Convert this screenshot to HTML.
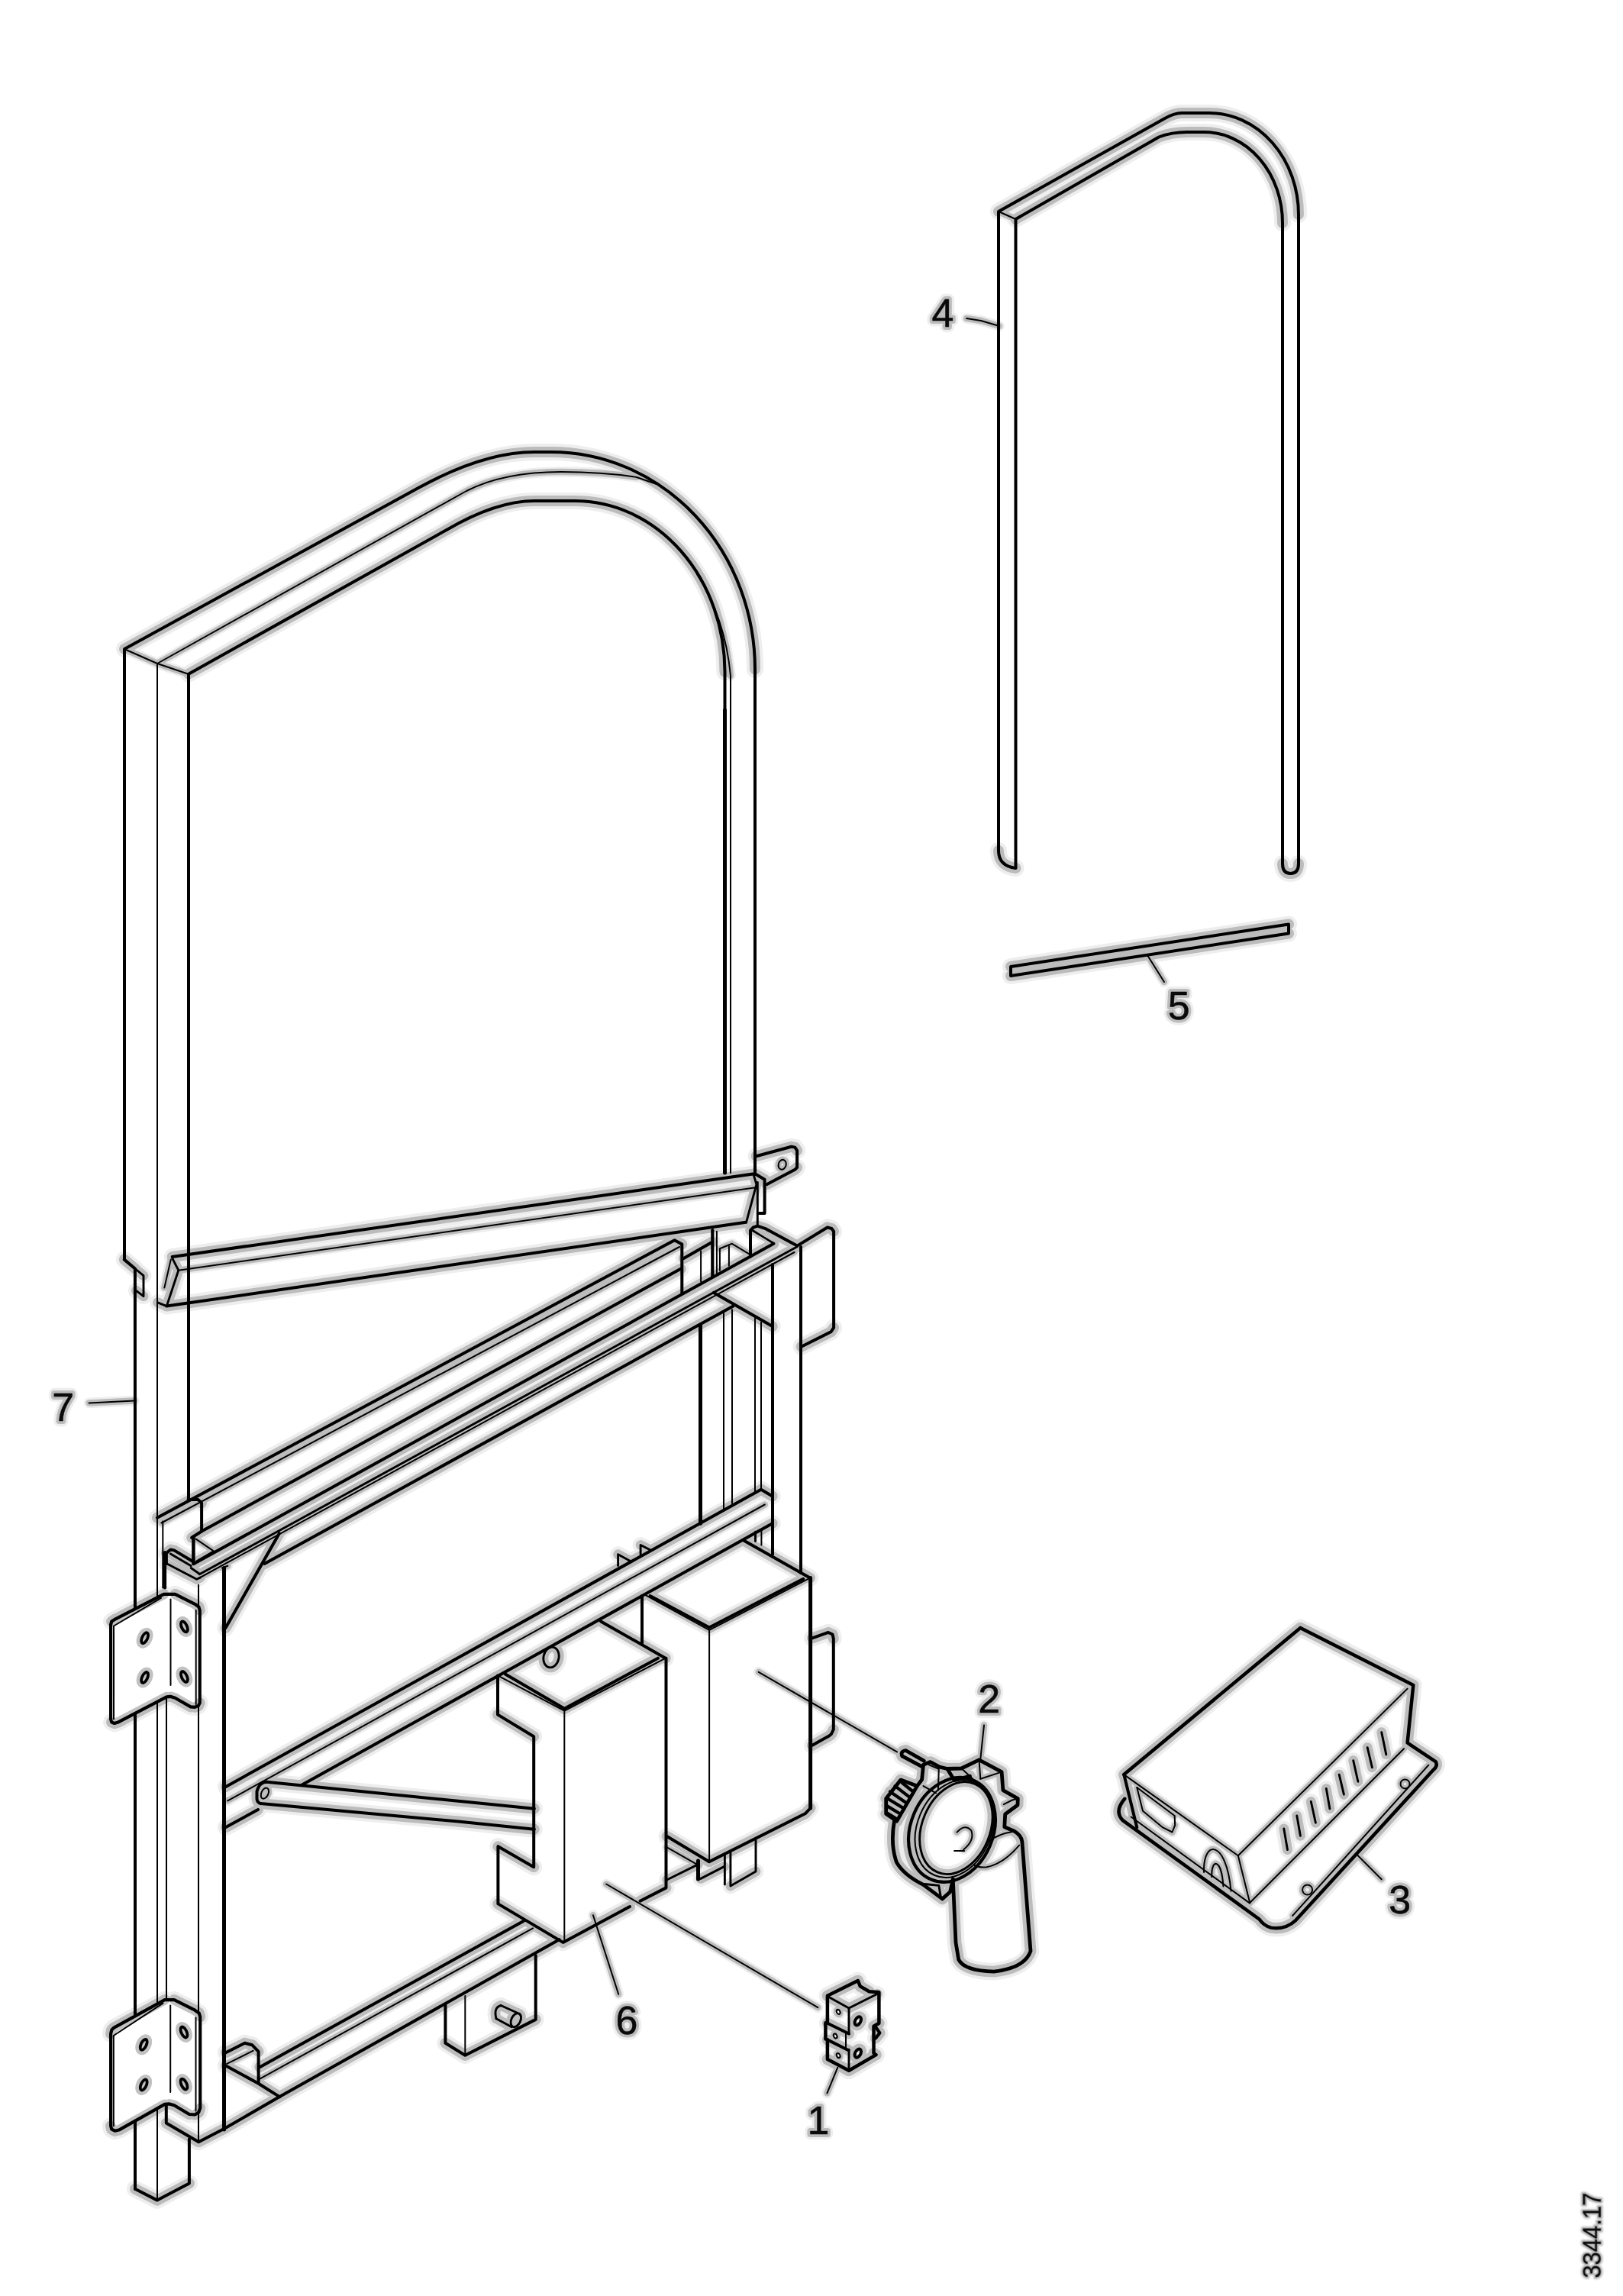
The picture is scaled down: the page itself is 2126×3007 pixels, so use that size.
<!DOCTYPE html>
<html><head><meta charset="utf-8"><style>
html,body{margin:0;padding:0;background:#fff;}
body{width:2126px;height:3007px;overflow:hidden;}
svg{display:block;font-family:"Liberation Sans",sans-serif;}
</style></head><body>
<svg width="2126" height="3007" viewBox="0 0 2126 3007" stroke="#000" stroke-linecap="round" stroke-linejoin="round" fill="none">
<g opacity="0.07" stroke="#000" fill="none">
<path d="M1308,277 L1525,155.5 Q1538,148 1548,148 L1584,148 A117 133 0 0 1 1701 281" stroke-width="22.0"/>
<path d="M1330.5,287 L1518,179.5 Q1535,173 1555,173 L1577,173 A103 119 0 0 1 1680 292" stroke-width="22.0"/>
<line x1="1308.0" y1="277.0" x2="1330.5" y2="287.0" stroke-width="13.7"/>
<path d="M1308,1114 Q1308,1134 1330.5,1137" stroke-width="22.0"/>
<path d="M1680,1131 Q1680,1144 1690.5,1144 Q1701,1144 1701,1131" stroke-width="22.0"/>
<text x="1220.4" y="427.7" font-size="52.0" fill="#000" stroke-width="14.4">4</text>
<line x1="1266.0" y1="417.0" x2="1285.0" y2="420.0" stroke-width="13.7"/>
<line x1="1285.0" y1="420.0" x2="1309.0" y2="427.0" stroke-width="13.7"/>
<line x1="1324.0" y1="1266.0" x2="1688.0" y2="1210.5" stroke-width="22.0"/>
<line x1="1688.0" y1="1222.5" x2="1324.0" y2="1278.0" stroke-width="22.0"/>
<text x="1529.7" y="1334.7" font-size="52.0" fill="#000" stroke-width="14.4">5</text>
<line x1="1503.0" y1="1251.0" x2="1525.0" y2="1286.0" stroke-width="13.7"/>
<path d="M163,850 L548,639 Q633.6,592 700,592 L722,592 A267 284.6 0 0 1 989,876.6" stroke-width="22.0"/>
<path d="M206,869 L611,643 Q660,618 735,618 Q790,618 834,625" stroke-width="13.7"/>
<path d="M913,752 Q950,810 957,885" stroke-width="13.7"/>
<path d="M247,882.7 L585,694 Q650,656 700,656 L753,656 A196.5 224 0 0 1 949.5,880" stroke-width="22.0"/>
<line x1="162.8" y1="850.0" x2="206.0" y2="869.0" stroke-width="13.7"/>
<line x1="206.0" y1="869.0" x2="246.6" y2="882.7" stroke-width="13.7"/>
<line x1="162.8" y1="1649.6" x2="176.9" y2="1661.5" stroke-width="22.0"/>
<line x1="176.9" y1="1661.5" x2="188.0" y2="1670.7" stroke-width="20.9"/>
<line x1="188.0" y1="1697.7" x2="178.4" y2="1690.3" stroke-width="20.9"/>
<line x1="116.6" y1="1837.4" x2="175.8" y2="1834.5" stroke-width="13.7"/>
<line x1="225.7" y1="1646.0" x2="986.3" y2="1537.6" stroke-width="22.0"/>
<line x1="233.8" y1="1663.7" x2="988.0" y2="1555.4" stroke-width="13.7"/>
<line x1="218.3" y1="1710.6" x2="977.0" y2="1600.8" stroke-width="22.0"/>
<line x1="225.7" y1="1647.8" x2="233.8" y2="1663.7" stroke-width="20.9"/>
<line x1="233.8" y1="1663.7" x2="218.3" y2="1710.6" stroke-width="20.9"/>
<line x1="218.3" y1="1710.6" x2="206.5" y2="1705.8" stroke-width="20.9"/>
<line x1="223.8" y1="1649.6" x2="215.3" y2="1686.6" stroke-width="13.7"/>
<line x1="205.9" y1="1987.7" x2="883.6" y2="1624.2" stroke-width="22.0"/>
<line x1="883.6" y1="1624.2" x2="893.3" y2="1629.5" stroke-width="22.0"/>
<line x1="211.4" y1="1994.5" x2="890.0" y2="1633.0" stroke-width="13.7"/>
<line x1="259.5" y1="1963.9" x2="264.1" y2="1968.5" stroke-width="22.0"/>
<line x1="251.2" y1="2013.8" x2="264.1" y2="2005.5" stroke-width="22.0"/>
<line x1="264.1" y1="2005.5" x2="891.7" y2="1661.7" stroke-width="22.0"/>
<line x1="256.7" y1="2015.6" x2="279.8" y2="2031.3" stroke-width="13.7"/>
<line x1="279.8" y1="2031.3" x2="257.6" y2="2044.3" stroke-width="13.7"/>
<line x1="253.9" y1="2048.0" x2="1013.4" y2="1628.8" stroke-width="22.0"/>
<line x1="261.3" y1="2061.8" x2="1044.2" y2="1632.8" stroke-width="20.9"/>
<line x1="261.3" y1="2066.5" x2="1040.6" y2="1640.0" stroke-width="13.7"/>
<line x1="346.4" y1="2048.0" x2="960.5" y2="1710.5" stroke-width="22.0"/>
<line x1="365.8" y1="2008.2" x2="295.5" y2="2132.1" stroke-width="22.0"/>
<line x1="290.9" y1="2053.5" x2="298.3" y2="2050.7" stroke-width="13.7"/>
<line x1="217.9" y1="2034.1" x2="223.4" y2="2029.5" stroke-width="22.0"/>
<line x1="228.1" y1="2030.4" x2="253.0" y2="2045.2" stroke-width="22.0"/>
<line x1="223.4" y1="2035.0" x2="250.2" y2="2050.7" stroke-width="20.9"/>
<line x1="218.8" y1="2048.0" x2="257.6" y2="2068.3" stroke-width="20.9"/>
<line x1="257.6" y1="2068.3" x2="262.3" y2="2066.1" stroke-width="20.9"/>
<line x1="250.2" y1="2053.5" x2="261.3" y2="2061.3" stroke-width="20.9"/>
<line x1="983.1" y1="1611.2" x2="986.8" y2="1607.5" stroke-width="22.0"/>
<line x1="986.8" y1="1607.5" x2="992.3" y2="1605.7" stroke-width="22.0"/>
<line x1="992.3" y1="1605.7" x2="1003.4" y2="1609.4" stroke-width="22.0"/>
<line x1="1003.4" y1="1609.4" x2="1044.1" y2="1631.6" stroke-width="22.0"/>
<line x1="985.9" y1="1612.2" x2="1013.6" y2="1627.9" stroke-width="13.7"/>
<line x1="986.2" y1="1611.2" x2="1013.4" y2="1628.8" stroke-width="13.7"/>
<line x1="1045.9" y1="1630.6" x2="1083.8" y2="1607.5" stroke-width="22.0"/>
<line x1="1083.8" y1="1607.5" x2="1089.4" y2="1609.0" stroke-width="22.0"/>
<line x1="1089.4" y1="1609.0" x2="1092.1" y2="1612.7" stroke-width="22.0"/>
<line x1="1092.1" y1="1738.8" x2="1088.4" y2="1744.3" stroke-width="22.0"/>
<line x1="1088.4" y1="1744.3" x2="1049.6" y2="1763.7" stroke-width="22.0"/>
<line x1="934.9" y1="1692.9" x2="1011.8" y2="1737.0" stroke-width="22.0"/>
<line x1="895.7" y1="1648.1" x2="933.3" y2="1626.4" stroke-width="22.0"/>
<line x1="942.9" y1="1635.2" x2="958.9" y2="1628.8" stroke-width="13.7"/>
<line x1="958.9" y1="1628.8" x2="983.0" y2="1643.3" stroke-width="13.7"/>
<line x1="990.5" y1="1514.2" x2="1036.7" y2="1501.8" stroke-width="22.0"/>
<line x1="1041.3" y1="1502.6" x2="1044.1" y2="1506.8" stroke-width="22.0"/>
<line x1="1044.1" y1="1529.0" x2="1041.3" y2="1531.8" stroke-width="22.0"/>
<line x1="1041.3" y1="1531.8" x2="1004.3" y2="1551.2" stroke-width="22.0"/>
<ellipse cx="1024.7" cy="1525.3" rx="5.0" ry="6.5" transform="rotate(15.0 1024.7 1525.3)" stroke-width="13.7"/>
<line x1="989.0" y1="1537.3" x2="1001.6" y2="1544.7" stroke-width="22.0"/>
<line x1="986.8" y1="1537.3" x2="990.9" y2="1551.2" stroke-width="20.9"/>
<line x1="990.9" y1="1551.2" x2="977.5" y2="1601.1" stroke-width="20.9"/>
<line x1="176.9" y1="2866.8" x2="206.0" y2="2881.6" stroke-width="22.0"/>
<line x1="206.0" y1="2881.6" x2="247.9" y2="2859.4" stroke-width="22.0"/>
<line x1="217.8" y1="2780.6" x2="260.2" y2="2805.2" stroke-width="22.0"/>
<line x1="260.2" y1="2805.2" x2="293.5" y2="2788.0" stroke-width="22.0"/>
<line x1="293.5" y1="2788.0" x2="366.2" y2="2746.1" stroke-width="22.0"/>
<line x1="146.2" y1="2123.6" x2="149.9" y2="2121.2" stroke-width="22.2"/>
<line x1="149.9" y1="2121.2" x2="214.6" y2="2087.9" stroke-width="22.2"/>
<line x1="229.4" y1="2087.9" x2="255.3" y2="2100.8" stroke-width="22.2"/>
<line x1="255.3" y1="2100.8" x2="260.4" y2="2104.5" stroke-width="22.2"/>
<line x1="260.4" y1="2104.5" x2="261.7" y2="2109.1" stroke-width="22.2"/>
<line x1="261.7" y1="2230.2" x2="259.9" y2="2233.9" stroke-width="22.2"/>
<line x1="259.9" y1="2233.9" x2="255.3" y2="2235.8" stroke-width="22.2"/>
<line x1="249.7" y1="2235.4" x2="229.4" y2="2223.8" stroke-width="22.2"/>
<line x1="229.4" y1="2223.8" x2="223.8" y2="2221.9" stroke-width="22.2"/>
<line x1="218.3" y1="2222.3" x2="155.5" y2="2255.2" stroke-width="22.2"/>
<line x1="155.5" y1="2255.2" x2="149.9" y2="2257.0" stroke-width="22.2"/>
<line x1="149.9" y1="2257.0" x2="146.2" y2="2255.5" stroke-width="22.2"/>
<line x1="149.0" y1="2129.5" x2="210.9" y2="2092.9" stroke-width="13.7"/>
<ellipse cx="189.6" cy="2145.2" rx="3.5" ry="7.5" transform="rotate(25.0 189.6 2145.2)" stroke-width="21.8"/>
<ellipse cx="189.6" cy="2197.0" rx="3.5" ry="7.5" transform="rotate(25.0 189.6 2197.0)" stroke-width="21.8"/>
<ellipse cx="241.4" cy="2130.4" rx="3.5" ry="7.5" transform="rotate(-25.0 241.4 2130.4)" stroke-width="21.8"/>
<ellipse cx="241.4" cy="2196.0" rx="3.5" ry="7.5" transform="rotate(-25.0 241.4 2196.0)" stroke-width="21.8"/>
<line x1="145.1" y1="2663.5" x2="146.3" y2="2658.6" stroke-width="22.2"/>
<line x1="146.3" y1="2658.6" x2="149.3" y2="2655.6" stroke-width="22.2"/>
<line x1="149.3" y1="2655.6" x2="215.8" y2="2619.1" stroke-width="22.2"/>
<line x1="228.2" y1="2619.1" x2="255.3" y2="2632.7" stroke-width="22.2"/>
<line x1="255.3" y1="2632.7" x2="260.7" y2="2636.4" stroke-width="22.2"/>
<line x1="260.7" y1="2636.4" x2="262.2" y2="2641.3" stroke-width="22.2"/>
<line x1="262.2" y1="2760.9" x2="260.2" y2="2766.5" stroke-width="22.2"/>
<line x1="260.2" y1="2766.5" x2="255.3" y2="2769.5" stroke-width="22.2"/>
<line x1="247.9" y1="2769.0" x2="228.2" y2="2757.2" stroke-width="22.2"/>
<line x1="228.2" y1="2757.2" x2="222.0" y2="2755.4" stroke-width="22.2"/>
<line x1="215.8" y1="2755.9" x2="156.7" y2="2789.2" stroke-width="22.2"/>
<line x1="156.7" y1="2789.2" x2="150.5" y2="2790.7" stroke-width="22.2"/>
<line x1="150.5" y1="2790.7" x2="146.3" y2="2788.7" stroke-width="22.2"/>
<line x1="146.3" y1="2788.7" x2="145.1" y2="2784.3" stroke-width="22.2"/>
<line x1="148.8" y1="2666.0" x2="213.4" y2="2623.6" stroke-width="13.7"/>
<ellipse cx="188.2" cy="2677.8" rx="3.5" ry="7.5" transform="rotate(25.0 188.2 2677.8)" stroke-width="21.8"/>
<ellipse cx="188.2" cy="2730.5" rx="3.5" ry="7.5" transform="rotate(25.0 188.2 2730.5)" stroke-width="21.8"/>
<ellipse cx="241.0" cy="2661.5" rx="3.5" ry="7.5" transform="rotate(-25.0 241.0 2661.5)" stroke-width="21.8"/>
<ellipse cx="241.0" cy="2729.6" rx="3.5" ry="7.5" transform="rotate(-25.0 241.0 2729.6)" stroke-width="21.8"/>
<line x1="295.9" y1="2340.0" x2="996.9" y2="1950.8" stroke-width="22.0"/>
<line x1="996.9" y1="1950.8" x2="1011.7" y2="1959.4" stroke-width="22.0"/>
<line x1="298.3" y1="2358.4" x2="1001.8" y2="1970.5" stroke-width="13.7"/>
<line x1="295.9" y1="2393.0" x2="338.0" y2="2370.0" stroke-width="22.0"/>
<line x1="395.7" y1="2337.5" x2="1011.7" y2="1995.2" stroke-width="22.0"/>
<line x1="809.6" y1="2035.8" x2="825.6" y2="2044.5" stroke-width="20.9"/>
<line x1="839.1" y1="2023.5" x2="851.5" y2="2029.7" stroke-width="20.9"/>
<line x1="348.9" y1="2333.8" x2="600.0" y2="2358.7" stroke-width="22.0"/>
<line x1="600.0" y1="2358.7" x2="699.8" y2="2368.7" stroke-width="22.0"/>
<line x1="341.5" y1="2362.1" x2="600.0" y2="2385.5" stroke-width="22.0"/>
<line x1="600.0" y1="2385.5" x2="699.8" y2="2395.7" stroke-width="22.0"/>
<path d="M348.9,2333.8 Q340,2334 336.5,2346 L336.5,2356 Q337,2361 341.5,2362.1" stroke-width="22.0"/>
<ellipse cx="346.9" cy="2348.6" rx="4.5" ry="7.5" transform="rotate(25.0 346.9 2348.6)" stroke-width="13.7"/>
<line x1="295.9" y1="2688.2" x2="320.6" y2="2675.8" stroke-width="22.0"/>
<line x1="320.6" y1="2675.8" x2="330.4" y2="2678.3" stroke-width="22.0"/>
<line x1="330.4" y1="2678.3" x2="338.6" y2="2686.9" stroke-width="22.0"/>
<line x1="295.9" y1="2705.4" x2="338.6" y2="2728.8" stroke-width="22.0"/>
<line x1="338.6" y1="2728.8" x2="366.2" y2="2746.1" stroke-width="22.0"/>
<line x1="297.2" y1="2702.9" x2="331.7" y2="2685.7" stroke-width="13.7"/>
<line x1="340.3" y1="2707.2" x2="685.7" y2="2516.0" stroke-width="22.0"/>
<line x1="340.3" y1="2722.7" x2="698.0" y2="2525.4" stroke-width="13.7"/>
<line x1="366.2" y1="2746.1" x2="732.5" y2="2540.2" stroke-width="22.0"/>
<line x1="583.4" y1="2675.7" x2="609.3" y2="2691.8" stroke-width="22.0"/>
<line x1="609.3" y1="2691.8" x2="701.7" y2="2644.9" stroke-width="22.0"/>
<line x1="656.1" y1="2626.5" x2="677.8" y2="2636.3" stroke-width="20.9"/>
<line x1="650.0" y1="2643.7" x2="670.4" y2="2654.8" stroke-width="20.9"/>
<path d="M656.1,2626.5 Q646.3,2628.9 650.0,2643.7" stroke-width="20.9"/>
<ellipse cx="675.8" cy="2645.7" rx="6.0" ry="9.5" transform="rotate(25.0 675.8 2645.7)" stroke-width="20.9"/>
<line x1="851.5" y1="2090.1" x2="929.1" y2="2131.5" stroke-width="22.0"/>
<line x1="929.1" y1="2131.5" x2="1052.3" y2="2067.9" stroke-width="22.0"/>
<line x1="974.7" y1="2017.8" x2="1061.0" y2="2066.6" stroke-width="22.0"/>
<line x1="845.3" y1="2088.8" x2="929.1" y2="2134.9" stroke-width="13.7"/>
<line x1="929.1" y1="2134.9" x2="1061.0" y2="2066.6" stroke-width="13.7"/>
<line x1="1061.6" y1="2368.0" x2="1054.7" y2="2375.3" stroke-width="22.0"/>
<line x1="1054.7" y1="2375.3" x2="929.0" y2="2438.2" stroke-width="22.0"/>
<line x1="929.0" y1="2438.2" x2="873.6" y2="2405.0" stroke-width="22.0"/>
<line x1="1064.0" y1="2145.3" x2="1085.0" y2="2138.0" stroke-width="22.0"/>
<line x1="1085.0" y1="2138.0" x2="1090.5" y2="2140.5" stroke-width="22.0"/>
<line x1="1090.5" y1="2140.5" x2="1091.8" y2="2146.0" stroke-width="22.0"/>
<line x1="1091.8" y1="2265.0" x2="1089.0" y2="2271.0" stroke-width="22.0"/>
<line x1="1089.0" y1="2271.0" x2="1086.0" y2="2273.5" stroke-width="22.0"/>
<line x1="1086.0" y1="2273.5" x2="1064.0" y2="2285.8" stroke-width="22.0"/>
<line x1="917.9" y1="2460.4" x2="948.5" y2="2444.6" stroke-width="20.9"/>
<line x1="956.9" y1="2470.0" x2="990.0" y2="2451.0" stroke-width="20.9"/>
<line x1="873.6" y1="2419.4" x2="914.9" y2="2442.8" stroke-width="13.7"/>
<line x1="873.6" y1="2462.0" x2="914.2" y2="2441.9" stroke-width="20.9"/>
<line x1="661.8" y1="2192.4" x2="739.3" y2="2237.7" stroke-width="22.0"/>
<line x1="739.3" y1="2237.7" x2="861.9" y2="2171.7" stroke-width="22.0"/>
<line x1="787.0" y1="2123.4" x2="871.8" y2="2171.7" stroke-width="22.0"/>
<line x1="652.0" y1="2194.4" x2="739.3" y2="2240.7" stroke-width="13.7"/>
<line x1="739.3" y1="2240.7" x2="871.8" y2="2171.7" stroke-width="13.7"/>
<line x1="652.0" y1="2245.6" x2="699.2" y2="2274.2" stroke-width="22.0"/>
<line x1="699.2" y1="2445.3" x2="652.4" y2="2418.2" stroke-width="22.0"/>
<line x1="652.4" y1="2493.4" x2="737.5" y2="2543.9" stroke-width="22.0"/>
<line x1="737.5" y1="2543.9" x2="825.0" y2="2497.1" stroke-width="22.0"/>
<line x1="838.5" y1="2489.7" x2="872.5" y2="2472.4" stroke-width="22.0"/>
<ellipse cx="722.0" cy="2170.5" rx="10.0" ry="13.5" transform="rotate(12.0 722.0 2170.5)" stroke-width="20.9"/>
<line x1="993.7" y1="2189.8" x2="1175.0" y2="2294.4" stroke-width="13.7"/>
<line x1="794.1" y1="2467.5" x2="1071.3" y2="2629.2" stroke-width="13.7"/>
<line x1="776.9" y1="2508.2" x2="810.2" y2="2611.7" stroke-width="13.7"/>
<path d="M1472.3,2324.1 1703.4,2131.9 1851.3,2207.0 L1843.6,2282.5 1880.5,2307.1 Q1884.2,2312.7 1876.8,2318.8 L1697.2,2515.1 Q1683.4,2527.7 1664.9,2524.6 Q1655.7,2522.2 1649.5,2513.5 L1470.8,2384.1 Q1459.1,2372.4 1473.3,2355.8" stroke-width="22.5"/>
<line x1="1472.3" y1="2324.1" x2="1489.3" y2="2393.4" stroke-width="22.0"/>
<line x1="1472.3" y1="2324.1" x2="1621.8" y2="2430.3" stroke-width="13.7"/>
<line x1="1621.8" y1="2430.3" x2="1843.6" y2="2211.6" stroke-width="13.7"/>
<line x1="1621.8" y1="2430.3" x2="1637.2" y2="2492.0" stroke-width="13.7"/>
<line x1="1637.2" y1="2492.0" x2="1839.0" y2="2290.2" stroke-width="13.7"/>
<line x1="1871.3" y1="2311.7" x2="1693.2" y2="2508.9" stroke-width="13.7"/>
<line x1="1481.6" y1="2379.5" x2="1637.2" y2="2492.6" stroke-width="13.7"/>
<line x1="1681.8" y1="2394.9" x2="1686.5" y2="2422.6" stroke-width="20.9"/>
<line x1="1698.8" y1="2378.0" x2="1703.4" y2="2404.2" stroke-width="20.9"/>
<line x1="1717.3" y1="2359.5" x2="1723.4" y2="2387.2" stroke-width="20.9"/>
<line x1="1737.3" y1="2342.5" x2="1741.9" y2="2368.7" stroke-width="20.9"/>
<line x1="1754.2" y1="2324.1" x2="1760.4" y2="2350.2" stroke-width="20.9"/>
<line x1="1772.7" y1="2305.6" x2="1778.9" y2="2333.3" stroke-width="20.9"/>
<line x1="1791.2" y1="2288.6" x2="1797.4" y2="2314.8" stroke-width="20.9"/>
<line x1="1809.7" y1="2268.6" x2="1815.8" y2="2297.9" stroke-width="20.9"/>
<circle cx="1840.5" cy="2336.4" r="6.0" stroke-width="13.7"/>
<circle cx="1712.6" cy="2475.0" r="6.5" stroke-width="13.7"/>
<line x1="1489.3" y1="2341.0" x2="1497.0" y2="2371.8" stroke-width="13.7"/>
<line x1="1497.0" y1="2371.8" x2="1523.2" y2="2393.4" stroke-width="13.7"/>
<line x1="1523.2" y1="2393.4" x2="1535.5" y2="2399.5" stroke-width="13.7"/>
<line x1="1535.5" y1="2399.5" x2="1539.2" y2="2390.3" stroke-width="13.7"/>
<line x1="1489.3" y1="2341.0" x2="1538.6" y2="2378.0" stroke-width="13.7"/>
<path d="M1577.1,2451.9 C1575.6,2408.8 1606.4,2408.8 1612.5,2476.6" stroke-width="13.7"/>
<path d="M1587.3,2458.1 C1586.3,2433.4 1600.2,2433.4 1602.4,2470.4" stroke-width="13.7"/>
<line x1="1777.3" y1="2428.8" x2="1809.7" y2="2461.2" stroke-width="13.7"/>
<line x1="1083.9" y1="2613.7" x2="1123.8" y2="2594.0" stroke-width="22.5"/>
<line x1="1123.8" y1="2594.0" x2="1126.8" y2="2601.4" stroke-width="22.5"/>
<line x1="1126.8" y1="2601.4" x2="1138.6" y2="2608.3" stroke-width="22.5"/>
<line x1="1151.4" y1="2649.7" x2="1144.5" y2="2653.7" stroke-width="22.5"/>
<line x1="1144.5" y1="2689.1" x2="1147.5" y2="2691.1" stroke-width="22.5"/>
<line x1="1147.5" y1="2691.1" x2="1112.0" y2="2711.8" stroke-width="22.5"/>
<line x1="1112.0" y1="2711.8" x2="1083.9" y2="2697.0" stroke-width="22.5"/>
<line x1="1147.0" y1="2654.6" x2="1152.4" y2="2662.5" stroke-width="22.2"/>
<line x1="1152.4" y1="2662.5" x2="1147.0" y2="2669.4" stroke-width="22.2"/>
<line x1="1085.3" y1="2615.2" x2="1112.0" y2="2630.0" stroke-width="20.9"/>
<line x1="1112.0" y1="2630.0" x2="1149.4" y2="2611.3" stroke-width="20.9"/>
<line x1="1083.9" y1="2649.7" x2="1112.0" y2="2663.5" stroke-width="22.0"/>
<line x1="1083.9" y1="2671.4" x2="1111.5" y2="2685.2" stroke-width="22.0"/>
<ellipse cx="1123.8" cy="2646.8" rx="3.6" ry="6.0" transform="rotate(28.0 1123.8 2646.8)" stroke-width="22.0"/>
<ellipse cx="1123.8" cy="2689.1" rx="3.6" ry="6.0" transform="rotate(28.0 1123.8 2689.1)" stroke-width="22.0"/>
<ellipse cx="1098.2" cy="2634.9" rx="2.2" ry="3.2" transform="rotate(-25.0 1098.2 2634.9)" stroke-width="13.7"/>
<ellipse cx="1094.2" cy="2666.5" rx="2.2" ry="3.2" transform="rotate(-25.0 1094.2 2666.5)" stroke-width="13.7"/>
<ellipse cx="1098.2" cy="2692.1" rx="2.2" ry="3.2" transform="rotate(-25.0 1098.2 2692.1)" stroke-width="13.7"/>
<line x1="1097.2" y1="2707.9" x2="1083.4" y2="2741.4" stroke-width="13.7"/>
<path d="M1210.4,2306.2 L1186.4,2292.5 Q1179.0,2293.8 1181.8,2299.9 L1206.7,2313.2" stroke-width="22.8"/>
<path d="M1201.3,2339.1 L1207.6,2330.7 1209.5,2311.3 1218.7,2307.6 1230.7,2314.1 1240.9,2316.5 1259.4,2316.0 1282.5,2304.9 1312.1,2320.6 1313.9,2344.6 1333.3,2355.7 1333.0,2364.0 1316.7,2376.0 1315.8,2392.7 1328.7,2398.2 Q1337.9,2403.8 1338.9,2412.1 L1350.0,2555.3 Q1342.6,2577.5 1301.9,2582.1 Q1263.1,2581.2 1255.7,2566.4 L1252.0,2544.2 1248.3,2461.1" stroke-width="22.8"/>
<path d="M1171.6,2384.3 Q1166.0,2414.8 1174.4,2438.9 Q1183.6,2455.5 1209.5,2468.4 L1234.4,2486.9 1244.6,2477.7 1248.3,2461.1" stroke-width="22.8"/>
<line x1="1211.3" y1="2467.5" x2="1229.8" y2="2469.4" stroke-width="20.9"/>
<line x1="1229.8" y1="2469.4" x2="1232.6" y2="2486.0" stroke-width="20.9"/>
<line x1="1201.3" y1="2339.1" x2="1179.9" y2="2331.1" stroke-width="22.8"/>
<line x1="1179.9" y1="2331.1" x2="1160.7" y2="2355.5" stroke-width="22.8"/>
<line x1="1160.7" y1="2375.5" x2="1174.7" y2="2385.1" stroke-width="22.8"/>
<line x1="1174.7" y1="2385.1" x2="1201.3" y2="2339.1" stroke-width="22.8"/>
<line x1="1181.4" y1="2334.6" x2="1196.2" y2="2346.5" stroke-width="22.2"/>
<line x1="1172.5" y1="2339.1" x2="1191.7" y2="2353.8" stroke-width="22.2"/>
<line x1="1165.9" y1="2346.5" x2="1187.3" y2="2361.2" stroke-width="22.2"/>
<line x1="1162.2" y1="2355.3" x2="1184.3" y2="2368.6" stroke-width="22.2"/>
<line x1="1161.4" y1="2364.9" x2="1179.9" y2="2376.0" stroke-width="22.2"/>
<line x1="1162.2" y1="2374.5" x2="1175.5" y2="2382.7" stroke-width="22.2"/>
<line x1="1240.9" y1="2316.5" x2="1250.1" y2="2331.7" stroke-width="22.8"/>
<line x1="1250.1" y1="2331.7" x2="1270.5" y2="2326.1" stroke-width="22.8"/>
<line x1="1282.5" y1="2304.9" x2="1284.3" y2="2329.8" stroke-width="13.7"/>
<line x1="1284.3" y1="2329.8" x2="1312.1" y2="2320.6" stroke-width="13.7"/>
<line x1="1259.4" y1="2316.0" x2="1274.2" y2="2329.8" stroke-width="13.7"/>
<line x1="1216.9" y1="2311.3" x2="1229.8" y2="2316.9" stroke-width="13.7"/>
<line x1="1209.5" y1="2339.1" x2="1226.1" y2="2348.3" stroke-width="13.7"/>
<line x1="1314.8" y1="2363.1" x2="1325.9" y2="2357.5" stroke-width="13.7"/>
<line x1="1325.9" y1="2357.5" x2="1333.3" y2="2355.7" stroke-width="13.7"/>
<ellipse cx="1247.0" cy="2396.4" rx="54.0" ry="70.6" transform="rotate(23.0 1247.0 2396.4)" stroke-width="22.2"/>
<ellipse cx="1250.1" cy="2395.1" rx="48.4" ry="66.2" transform="rotate(23.0 1250.1 2395.1)" stroke-width="13.7"/>
<ellipse cx="1252.4" cy="2394.1" rx="44.4" ry="62.8" transform="rotate(23.0 1252.4 2394.1)" stroke-width="20.9"/>
<path d="M1253.5,2399.7 Q1264.0,2388.0 1272.3,2397.3 Q1277.0,2410.2 1262.2,2422.2" stroke-width="13.7"/>
<path d="M1294.5,2412.1 Q1307.4,2401.9 1328.7,2398.6" stroke-width="13.7"/>
<path d="M1335.2,2416.7 Q1314.8,2440.7 1292.7,2445.3 Q1281.6,2446.3 1276.0,2442.6" stroke-width="13.7"/>
<line x1="1289.0" y1="2259.6" x2="1284.3" y2="2303.9" stroke-width="13.7"/>
<text x="68.3" y="1861.4" font-size="52.0" fill="#000" stroke-width="14.4">7</text>
<text x="1819.3" y="2505.7" font-size="52.0" fill="#000" stroke-width="14.4">3</text>
<text x="806.4" y="2664.2" font-size="52.0" fill="#000" stroke-width="14.4">6</text>
<text x="1057.6" y="2795.1" font-size="52.0" fill="#000" stroke-width="14.4">1</text>
<text x="1281.3" y="2242.9" font-size="52.0" fill="#000" stroke-width="14.4">2</text>
<text x="2096.4" y="2983.7" font-size="33.0" transform="rotate(-90 2096.4 2983.7)" textLength="112" lengthAdjust="spacingAndGlyphs" fill="#000" stroke-width="9.1">3344.17</text>
</g>
<g opacity="0.21" stroke="#000" fill="none">
<path d="M1308,277 L1525,155.5 Q1538,148 1548,148 L1584,148 A117 133 0 0 1 1701 281" stroke-width="14.0"/>
<path d="M1330.5,287 L1518,179.5 Q1535,173 1555,173 L1577,173 A103 119 0 0 1 1680 292" stroke-width="14.0"/>
<line x1="1308.0" y1="277.0" x2="1330.5" y2="287.0" stroke-width="8.5"/>
<path d="M1308,1114 Q1308,1134 1330.5,1137" stroke-width="14.0"/>
<path d="M1680,1131 Q1680,1144 1690.5,1144 Q1701,1144 1701,1131" stroke-width="14.0"/>
<text x="1220.4" y="427.7" font-size="52.0" fill="#000" stroke-width="8.0">4</text>
<line x1="1266.0" y1="417.0" x2="1285.0" y2="420.0" stroke-width="8.5"/>
<line x1="1285.0" y1="420.0" x2="1309.0" y2="427.0" stroke-width="8.5"/>
<line x1="1324.0" y1="1266.0" x2="1688.0" y2="1210.5" stroke-width="14.0"/>
<line x1="1688.0" y1="1222.5" x2="1324.0" y2="1278.0" stroke-width="14.0"/>
<text x="1529.7" y="1334.7" font-size="52.0" fill="#000" stroke-width="8.0">5</text>
<line x1="1503.0" y1="1251.0" x2="1525.0" y2="1286.0" stroke-width="8.5"/>
<path d="M163,850 L548,639 Q633.6,592 700,592 L722,592 A267 284.6 0 0 1 989,876.6" stroke-width="14.0"/>
<path d="M206,869 L611,643 Q660,618 735,618 Q790,618 834,625" stroke-width="8.5"/>
<path d="M913,752 Q950,810 957,885" stroke-width="8.5"/>
<path d="M247,882.7 L585,694 Q650,656 700,656 L753,656 A196.5 224 0 0 1 949.5,880" stroke-width="14.0"/>
<line x1="162.8" y1="850.0" x2="206.0" y2="869.0" stroke-width="8.5"/>
<line x1="206.0" y1="869.0" x2="246.6" y2="882.7" stroke-width="8.5"/>
<line x1="162.8" y1="1649.6" x2="176.9" y2="1661.5" stroke-width="14.0"/>
<line x1="176.9" y1="1661.5" x2="188.0" y2="1670.7" stroke-width="12.9"/>
<line x1="188.0" y1="1697.7" x2="178.4" y2="1690.3" stroke-width="12.9"/>
<line x1="116.6" y1="1837.4" x2="175.8" y2="1834.5" stroke-width="8.5"/>
<line x1="225.7" y1="1646.0" x2="986.3" y2="1537.6" stroke-width="14.0"/>
<line x1="233.8" y1="1663.7" x2="988.0" y2="1555.4" stroke-width="8.5"/>
<line x1="218.3" y1="1710.6" x2="977.0" y2="1600.8" stroke-width="14.0"/>
<line x1="225.7" y1="1647.8" x2="233.8" y2="1663.7" stroke-width="12.9"/>
<line x1="233.8" y1="1663.7" x2="218.3" y2="1710.6" stroke-width="12.9"/>
<line x1="218.3" y1="1710.6" x2="206.5" y2="1705.8" stroke-width="12.9"/>
<line x1="223.8" y1="1649.6" x2="215.3" y2="1686.6" stroke-width="8.5"/>
<line x1="205.9" y1="1987.7" x2="883.6" y2="1624.2" stroke-width="14.0"/>
<line x1="883.6" y1="1624.2" x2="893.3" y2="1629.5" stroke-width="14.0"/>
<line x1="211.4" y1="1994.5" x2="890.0" y2="1633.0" stroke-width="8.5"/>
<line x1="259.5" y1="1963.9" x2="264.1" y2="1968.5" stroke-width="14.0"/>
<line x1="251.2" y1="2013.8" x2="264.1" y2="2005.5" stroke-width="14.0"/>
<line x1="264.1" y1="2005.5" x2="891.7" y2="1661.7" stroke-width="14.0"/>
<line x1="256.7" y1="2015.6" x2="279.8" y2="2031.3" stroke-width="8.5"/>
<line x1="279.8" y1="2031.3" x2="257.6" y2="2044.3" stroke-width="8.5"/>
<line x1="253.9" y1="2048.0" x2="1013.4" y2="1628.8" stroke-width="14.0"/>
<line x1="261.3" y1="2061.8" x2="1044.2" y2="1632.8" stroke-width="12.9"/>
<line x1="261.3" y1="2066.5" x2="1040.6" y2="1640.0" stroke-width="8.5"/>
<line x1="346.4" y1="2048.0" x2="960.5" y2="1710.5" stroke-width="14.0"/>
<line x1="365.8" y1="2008.2" x2="295.5" y2="2132.1" stroke-width="14.0"/>
<line x1="290.9" y1="2053.5" x2="298.3" y2="2050.7" stroke-width="8.5"/>
<line x1="217.9" y1="2034.1" x2="223.4" y2="2029.5" stroke-width="14.0"/>
<line x1="228.1" y1="2030.4" x2="253.0" y2="2045.2" stroke-width="14.0"/>
<line x1="223.4" y1="2035.0" x2="250.2" y2="2050.7" stroke-width="12.9"/>
<line x1="218.8" y1="2048.0" x2="257.6" y2="2068.3" stroke-width="12.9"/>
<line x1="257.6" y1="2068.3" x2="262.3" y2="2066.1" stroke-width="12.9"/>
<line x1="250.2" y1="2053.5" x2="261.3" y2="2061.3" stroke-width="12.9"/>
<line x1="983.1" y1="1611.2" x2="986.8" y2="1607.5" stroke-width="14.0"/>
<line x1="986.8" y1="1607.5" x2="992.3" y2="1605.7" stroke-width="14.0"/>
<line x1="992.3" y1="1605.7" x2="1003.4" y2="1609.4" stroke-width="14.0"/>
<line x1="1003.4" y1="1609.4" x2="1044.1" y2="1631.6" stroke-width="14.0"/>
<line x1="985.9" y1="1612.2" x2="1013.6" y2="1627.9" stroke-width="8.5"/>
<line x1="986.2" y1="1611.2" x2="1013.4" y2="1628.8" stroke-width="8.5"/>
<line x1="1045.9" y1="1630.6" x2="1083.8" y2="1607.5" stroke-width="14.0"/>
<line x1="1083.8" y1="1607.5" x2="1089.4" y2="1609.0" stroke-width="14.0"/>
<line x1="1089.4" y1="1609.0" x2="1092.1" y2="1612.7" stroke-width="14.0"/>
<line x1="1092.1" y1="1738.8" x2="1088.4" y2="1744.3" stroke-width="14.0"/>
<line x1="1088.4" y1="1744.3" x2="1049.6" y2="1763.7" stroke-width="14.0"/>
<line x1="934.9" y1="1692.9" x2="1011.8" y2="1737.0" stroke-width="14.0"/>
<line x1="895.7" y1="1648.1" x2="933.3" y2="1626.4" stroke-width="14.0"/>
<line x1="942.9" y1="1635.2" x2="958.9" y2="1628.8" stroke-width="8.5"/>
<line x1="958.9" y1="1628.8" x2="983.0" y2="1643.3" stroke-width="8.5"/>
<line x1="990.5" y1="1514.2" x2="1036.7" y2="1501.8" stroke-width="14.0"/>
<line x1="1041.3" y1="1502.6" x2="1044.1" y2="1506.8" stroke-width="14.0"/>
<line x1="1044.1" y1="1529.0" x2="1041.3" y2="1531.8" stroke-width="14.0"/>
<line x1="1041.3" y1="1531.8" x2="1004.3" y2="1551.2" stroke-width="14.0"/>
<ellipse cx="1024.7" cy="1525.3" rx="5.0" ry="6.5" transform="rotate(15.0 1024.7 1525.3)" stroke-width="8.5"/>
<line x1="989.0" y1="1537.3" x2="1001.6" y2="1544.7" stroke-width="14.0"/>
<line x1="986.8" y1="1537.3" x2="990.9" y2="1551.2" stroke-width="12.9"/>
<line x1="990.9" y1="1551.2" x2="977.5" y2="1601.1" stroke-width="12.9"/>
<line x1="176.9" y1="2866.8" x2="206.0" y2="2881.6" stroke-width="14.0"/>
<line x1="206.0" y1="2881.6" x2="247.9" y2="2859.4" stroke-width="14.0"/>
<line x1="217.8" y1="2780.6" x2="260.2" y2="2805.2" stroke-width="14.0"/>
<line x1="260.2" y1="2805.2" x2="293.5" y2="2788.0" stroke-width="14.0"/>
<line x1="293.5" y1="2788.0" x2="366.2" y2="2746.1" stroke-width="14.0"/>
<line x1="146.2" y1="2123.6" x2="149.9" y2="2121.2" stroke-width="14.2"/>
<line x1="149.9" y1="2121.2" x2="214.6" y2="2087.9" stroke-width="14.2"/>
<line x1="229.4" y1="2087.9" x2="255.3" y2="2100.8" stroke-width="14.2"/>
<line x1="255.3" y1="2100.8" x2="260.4" y2="2104.5" stroke-width="14.2"/>
<line x1="260.4" y1="2104.5" x2="261.7" y2="2109.1" stroke-width="14.2"/>
<line x1="261.7" y1="2230.2" x2="259.9" y2="2233.9" stroke-width="14.2"/>
<line x1="259.9" y1="2233.9" x2="255.3" y2="2235.8" stroke-width="14.2"/>
<line x1="249.7" y1="2235.4" x2="229.4" y2="2223.8" stroke-width="14.2"/>
<line x1="229.4" y1="2223.8" x2="223.8" y2="2221.9" stroke-width="14.2"/>
<line x1="218.3" y1="2222.3" x2="155.5" y2="2255.2" stroke-width="14.2"/>
<line x1="155.5" y1="2255.2" x2="149.9" y2="2257.0" stroke-width="14.2"/>
<line x1="149.9" y1="2257.0" x2="146.2" y2="2255.5" stroke-width="14.2"/>
<line x1="149.0" y1="2129.5" x2="210.9" y2="2092.9" stroke-width="8.5"/>
<ellipse cx="189.6" cy="2145.2" rx="3.5" ry="7.5" transform="rotate(25.0 189.6 2145.2)" stroke-width="13.8"/>
<ellipse cx="189.6" cy="2197.0" rx="3.5" ry="7.5" transform="rotate(25.0 189.6 2197.0)" stroke-width="13.8"/>
<ellipse cx="241.4" cy="2130.4" rx="3.5" ry="7.5" transform="rotate(-25.0 241.4 2130.4)" stroke-width="13.8"/>
<ellipse cx="241.4" cy="2196.0" rx="3.5" ry="7.5" transform="rotate(-25.0 241.4 2196.0)" stroke-width="13.8"/>
<line x1="145.1" y1="2663.5" x2="146.3" y2="2658.6" stroke-width="14.2"/>
<line x1="146.3" y1="2658.6" x2="149.3" y2="2655.6" stroke-width="14.2"/>
<line x1="149.3" y1="2655.6" x2="215.8" y2="2619.1" stroke-width="14.2"/>
<line x1="228.2" y1="2619.1" x2="255.3" y2="2632.7" stroke-width="14.2"/>
<line x1="255.3" y1="2632.7" x2="260.7" y2="2636.4" stroke-width="14.2"/>
<line x1="260.7" y1="2636.4" x2="262.2" y2="2641.3" stroke-width="14.2"/>
<line x1="262.2" y1="2760.9" x2="260.2" y2="2766.5" stroke-width="14.2"/>
<line x1="260.2" y1="2766.5" x2="255.3" y2="2769.5" stroke-width="14.2"/>
<line x1="247.9" y1="2769.0" x2="228.2" y2="2757.2" stroke-width="14.2"/>
<line x1="228.2" y1="2757.2" x2="222.0" y2="2755.4" stroke-width="14.2"/>
<line x1="215.8" y1="2755.9" x2="156.7" y2="2789.2" stroke-width="14.2"/>
<line x1="156.7" y1="2789.2" x2="150.5" y2="2790.7" stroke-width="14.2"/>
<line x1="150.5" y1="2790.7" x2="146.3" y2="2788.7" stroke-width="14.2"/>
<line x1="146.3" y1="2788.7" x2="145.1" y2="2784.3" stroke-width="14.2"/>
<line x1="148.8" y1="2666.0" x2="213.4" y2="2623.6" stroke-width="8.5"/>
<ellipse cx="188.2" cy="2677.8" rx="3.5" ry="7.5" transform="rotate(25.0 188.2 2677.8)" stroke-width="13.8"/>
<ellipse cx="188.2" cy="2730.5" rx="3.5" ry="7.5" transform="rotate(25.0 188.2 2730.5)" stroke-width="13.8"/>
<ellipse cx="241.0" cy="2661.5" rx="3.5" ry="7.5" transform="rotate(-25.0 241.0 2661.5)" stroke-width="13.8"/>
<ellipse cx="241.0" cy="2729.6" rx="3.5" ry="7.5" transform="rotate(-25.0 241.0 2729.6)" stroke-width="13.8"/>
<line x1="295.9" y1="2340.0" x2="996.9" y2="1950.8" stroke-width="14.0"/>
<line x1="996.9" y1="1950.8" x2="1011.7" y2="1959.4" stroke-width="14.0"/>
<line x1="298.3" y1="2358.4" x2="1001.8" y2="1970.5" stroke-width="8.5"/>
<line x1="295.9" y1="2393.0" x2="338.0" y2="2370.0" stroke-width="14.0"/>
<line x1="395.7" y1="2337.5" x2="1011.7" y2="1995.2" stroke-width="14.0"/>
<line x1="809.6" y1="2035.8" x2="825.6" y2="2044.5" stroke-width="12.9"/>
<line x1="839.1" y1="2023.5" x2="851.5" y2="2029.7" stroke-width="12.9"/>
<line x1="348.9" y1="2333.8" x2="600.0" y2="2358.7" stroke-width="14.0"/>
<line x1="600.0" y1="2358.7" x2="699.8" y2="2368.7" stroke-width="14.0"/>
<line x1="341.5" y1="2362.1" x2="600.0" y2="2385.5" stroke-width="14.0"/>
<line x1="600.0" y1="2385.5" x2="699.8" y2="2395.7" stroke-width="14.0"/>
<path d="M348.9,2333.8 Q340,2334 336.5,2346 L336.5,2356 Q337,2361 341.5,2362.1" stroke-width="14.0"/>
<ellipse cx="346.9" cy="2348.6" rx="4.5" ry="7.5" transform="rotate(25.0 346.9 2348.6)" stroke-width="8.5"/>
<line x1="295.9" y1="2688.2" x2="320.6" y2="2675.8" stroke-width="14.0"/>
<line x1="320.6" y1="2675.8" x2="330.4" y2="2678.3" stroke-width="14.0"/>
<line x1="330.4" y1="2678.3" x2="338.6" y2="2686.9" stroke-width="14.0"/>
<line x1="295.9" y1="2705.4" x2="338.6" y2="2728.8" stroke-width="14.0"/>
<line x1="338.6" y1="2728.8" x2="366.2" y2="2746.1" stroke-width="14.0"/>
<line x1="297.2" y1="2702.9" x2="331.7" y2="2685.7" stroke-width="8.5"/>
<line x1="340.3" y1="2707.2" x2="685.7" y2="2516.0" stroke-width="14.0"/>
<line x1="340.3" y1="2722.7" x2="698.0" y2="2525.4" stroke-width="8.5"/>
<line x1="366.2" y1="2746.1" x2="732.5" y2="2540.2" stroke-width="14.0"/>
<line x1="583.4" y1="2675.7" x2="609.3" y2="2691.8" stroke-width="14.0"/>
<line x1="609.3" y1="2691.8" x2="701.7" y2="2644.9" stroke-width="14.0"/>
<line x1="656.1" y1="2626.5" x2="677.8" y2="2636.3" stroke-width="12.9"/>
<line x1="650.0" y1="2643.7" x2="670.4" y2="2654.8" stroke-width="12.9"/>
<path d="M656.1,2626.5 Q646.3,2628.9 650.0,2643.7" stroke-width="12.9"/>
<ellipse cx="675.8" cy="2645.7" rx="6.0" ry="9.5" transform="rotate(25.0 675.8 2645.7)" stroke-width="12.9"/>
<line x1="851.5" y1="2090.1" x2="929.1" y2="2131.5" stroke-width="14.0"/>
<line x1="929.1" y1="2131.5" x2="1052.3" y2="2067.9" stroke-width="14.0"/>
<line x1="974.7" y1="2017.8" x2="1061.0" y2="2066.6" stroke-width="14.0"/>
<line x1="845.3" y1="2088.8" x2="929.1" y2="2134.9" stroke-width="8.5"/>
<line x1="929.1" y1="2134.9" x2="1061.0" y2="2066.6" stroke-width="8.5"/>
<line x1="1061.6" y1="2368.0" x2="1054.7" y2="2375.3" stroke-width="14.0"/>
<line x1="1054.7" y1="2375.3" x2="929.0" y2="2438.2" stroke-width="14.0"/>
<line x1="929.0" y1="2438.2" x2="873.6" y2="2405.0" stroke-width="14.0"/>
<line x1="1064.0" y1="2145.3" x2="1085.0" y2="2138.0" stroke-width="14.0"/>
<line x1="1085.0" y1="2138.0" x2="1090.5" y2="2140.5" stroke-width="14.0"/>
<line x1="1090.5" y1="2140.5" x2="1091.8" y2="2146.0" stroke-width="14.0"/>
<line x1="1091.8" y1="2265.0" x2="1089.0" y2="2271.0" stroke-width="14.0"/>
<line x1="1089.0" y1="2271.0" x2="1086.0" y2="2273.5" stroke-width="14.0"/>
<line x1="1086.0" y1="2273.5" x2="1064.0" y2="2285.8" stroke-width="14.0"/>
<line x1="917.9" y1="2460.4" x2="948.5" y2="2444.6" stroke-width="12.9"/>
<line x1="956.9" y1="2470.0" x2="990.0" y2="2451.0" stroke-width="12.9"/>
<line x1="873.6" y1="2419.4" x2="914.9" y2="2442.8" stroke-width="8.5"/>
<line x1="873.6" y1="2462.0" x2="914.2" y2="2441.9" stroke-width="12.9"/>
<line x1="661.8" y1="2192.4" x2="739.3" y2="2237.7" stroke-width="14.0"/>
<line x1="739.3" y1="2237.7" x2="861.9" y2="2171.7" stroke-width="14.0"/>
<line x1="787.0" y1="2123.4" x2="871.8" y2="2171.7" stroke-width="14.0"/>
<line x1="652.0" y1="2194.4" x2="739.3" y2="2240.7" stroke-width="8.5"/>
<line x1="739.3" y1="2240.7" x2="871.8" y2="2171.7" stroke-width="8.5"/>
<line x1="652.0" y1="2245.6" x2="699.2" y2="2274.2" stroke-width="14.0"/>
<line x1="699.2" y1="2445.3" x2="652.4" y2="2418.2" stroke-width="14.0"/>
<line x1="652.4" y1="2493.4" x2="737.5" y2="2543.9" stroke-width="14.0"/>
<line x1="737.5" y1="2543.9" x2="825.0" y2="2497.1" stroke-width="14.0"/>
<line x1="838.5" y1="2489.7" x2="872.5" y2="2472.4" stroke-width="14.0"/>
<ellipse cx="722.0" cy="2170.5" rx="10.0" ry="13.5" transform="rotate(12.0 722.0 2170.5)" stroke-width="12.9"/>
<line x1="993.7" y1="2189.8" x2="1175.0" y2="2294.4" stroke-width="8.5"/>
<line x1="794.1" y1="2467.5" x2="1071.3" y2="2629.2" stroke-width="8.5"/>
<line x1="776.9" y1="2508.2" x2="810.2" y2="2611.7" stroke-width="8.5"/>
<path d="M1472.3,2324.1 1703.4,2131.9 1851.3,2207.0 L1843.6,2282.5 1880.5,2307.1 Q1884.2,2312.7 1876.8,2318.8 L1697.2,2515.1 Q1683.4,2527.7 1664.9,2524.6 Q1655.7,2522.2 1649.5,2513.5 L1470.8,2384.1 Q1459.1,2372.4 1473.3,2355.8" stroke-width="14.5"/>
<line x1="1472.3" y1="2324.1" x2="1489.3" y2="2393.4" stroke-width="14.0"/>
<line x1="1472.3" y1="2324.1" x2="1621.8" y2="2430.3" stroke-width="8.5"/>
<line x1="1621.8" y1="2430.3" x2="1843.6" y2="2211.6" stroke-width="8.5"/>
<line x1="1621.8" y1="2430.3" x2="1637.2" y2="2492.0" stroke-width="8.5"/>
<line x1="1637.2" y1="2492.0" x2="1839.0" y2="2290.2" stroke-width="8.5"/>
<line x1="1871.3" y1="2311.7" x2="1693.2" y2="2508.9" stroke-width="8.5"/>
<line x1="1481.6" y1="2379.5" x2="1637.2" y2="2492.6" stroke-width="8.5"/>
<line x1="1681.8" y1="2394.9" x2="1686.5" y2="2422.6" stroke-width="12.9"/>
<line x1="1698.8" y1="2378.0" x2="1703.4" y2="2404.2" stroke-width="12.9"/>
<line x1="1717.3" y1="2359.5" x2="1723.4" y2="2387.2" stroke-width="12.9"/>
<line x1="1737.3" y1="2342.5" x2="1741.9" y2="2368.7" stroke-width="12.9"/>
<line x1="1754.2" y1="2324.1" x2="1760.4" y2="2350.2" stroke-width="12.9"/>
<line x1="1772.7" y1="2305.6" x2="1778.9" y2="2333.3" stroke-width="12.9"/>
<line x1="1791.2" y1="2288.6" x2="1797.4" y2="2314.8" stroke-width="12.9"/>
<line x1="1809.7" y1="2268.6" x2="1815.8" y2="2297.9" stroke-width="12.9"/>
<circle cx="1840.5" cy="2336.4" r="6.0" stroke-width="8.5"/>
<circle cx="1712.6" cy="2475.0" r="6.5" stroke-width="8.5"/>
<line x1="1489.3" y1="2341.0" x2="1497.0" y2="2371.8" stroke-width="8.5"/>
<line x1="1497.0" y1="2371.8" x2="1523.2" y2="2393.4" stroke-width="8.5"/>
<line x1="1523.2" y1="2393.4" x2="1535.5" y2="2399.5" stroke-width="8.5"/>
<line x1="1535.5" y1="2399.5" x2="1539.2" y2="2390.3" stroke-width="8.5"/>
<line x1="1489.3" y1="2341.0" x2="1538.6" y2="2378.0" stroke-width="8.5"/>
<path d="M1577.1,2451.9 C1575.6,2408.8 1606.4,2408.8 1612.5,2476.6" stroke-width="8.5"/>
<path d="M1587.3,2458.1 C1586.3,2433.4 1600.2,2433.4 1602.4,2470.4" stroke-width="8.5"/>
<line x1="1777.3" y1="2428.8" x2="1809.7" y2="2461.2" stroke-width="8.5"/>
<line x1="1083.9" y1="2613.7" x2="1123.8" y2="2594.0" stroke-width="14.5"/>
<line x1="1123.8" y1="2594.0" x2="1126.8" y2="2601.4" stroke-width="14.5"/>
<line x1="1126.8" y1="2601.4" x2="1138.6" y2="2608.3" stroke-width="14.5"/>
<line x1="1151.4" y1="2649.7" x2="1144.5" y2="2653.7" stroke-width="14.5"/>
<line x1="1144.5" y1="2689.1" x2="1147.5" y2="2691.1" stroke-width="14.5"/>
<line x1="1147.5" y1="2691.1" x2="1112.0" y2="2711.8" stroke-width="14.5"/>
<line x1="1112.0" y1="2711.8" x2="1083.9" y2="2697.0" stroke-width="14.5"/>
<line x1="1147.0" y1="2654.6" x2="1152.4" y2="2662.5" stroke-width="14.2"/>
<line x1="1152.4" y1="2662.5" x2="1147.0" y2="2669.4" stroke-width="14.2"/>
<line x1="1085.3" y1="2615.2" x2="1112.0" y2="2630.0" stroke-width="12.9"/>
<line x1="1112.0" y1="2630.0" x2="1149.4" y2="2611.3" stroke-width="12.9"/>
<line x1="1083.9" y1="2649.7" x2="1112.0" y2="2663.5" stroke-width="14.0"/>
<line x1="1083.9" y1="2671.4" x2="1111.5" y2="2685.2" stroke-width="14.0"/>
<ellipse cx="1123.8" cy="2646.8" rx="3.6" ry="6.0" transform="rotate(28.0 1123.8 2646.8)" stroke-width="14.0"/>
<ellipse cx="1123.8" cy="2689.1" rx="3.6" ry="6.0" transform="rotate(28.0 1123.8 2689.1)" stroke-width="14.0"/>
<ellipse cx="1098.2" cy="2634.9" rx="2.2" ry="3.2" transform="rotate(-25.0 1098.2 2634.9)" stroke-width="8.5"/>
<ellipse cx="1094.2" cy="2666.5" rx="2.2" ry="3.2" transform="rotate(-25.0 1094.2 2666.5)" stroke-width="8.5"/>
<ellipse cx="1098.2" cy="2692.1" rx="2.2" ry="3.2" transform="rotate(-25.0 1098.2 2692.1)" stroke-width="8.5"/>
<line x1="1097.2" y1="2707.9" x2="1083.4" y2="2741.4" stroke-width="8.5"/>
<path d="M1210.4,2306.2 L1186.4,2292.5 Q1179.0,2293.8 1181.8,2299.9 L1206.7,2313.2" stroke-width="14.8"/>
<path d="M1201.3,2339.1 L1207.6,2330.7 1209.5,2311.3 1218.7,2307.6 1230.7,2314.1 1240.9,2316.5 1259.4,2316.0 1282.5,2304.9 1312.1,2320.6 1313.9,2344.6 1333.3,2355.7 1333.0,2364.0 1316.7,2376.0 1315.8,2392.7 1328.7,2398.2 Q1337.9,2403.8 1338.9,2412.1 L1350.0,2555.3 Q1342.6,2577.5 1301.9,2582.1 Q1263.1,2581.2 1255.7,2566.4 L1252.0,2544.2 1248.3,2461.1" stroke-width="14.8"/>
<path d="M1171.6,2384.3 Q1166.0,2414.8 1174.4,2438.9 Q1183.6,2455.5 1209.5,2468.4 L1234.4,2486.9 1244.6,2477.7 1248.3,2461.1" stroke-width="14.8"/>
<line x1="1211.3" y1="2467.5" x2="1229.8" y2="2469.4" stroke-width="12.9"/>
<line x1="1229.8" y1="2469.4" x2="1232.6" y2="2486.0" stroke-width="12.9"/>
<line x1="1201.3" y1="2339.1" x2="1179.9" y2="2331.1" stroke-width="14.8"/>
<line x1="1179.9" y1="2331.1" x2="1160.7" y2="2355.5" stroke-width="14.8"/>
<line x1="1160.7" y1="2375.5" x2="1174.7" y2="2385.1" stroke-width="14.8"/>
<line x1="1174.7" y1="2385.1" x2="1201.3" y2="2339.1" stroke-width="14.8"/>
<line x1="1181.4" y1="2334.6" x2="1196.2" y2="2346.5" stroke-width="14.2"/>
<line x1="1172.5" y1="2339.1" x2="1191.7" y2="2353.8" stroke-width="14.2"/>
<line x1="1165.9" y1="2346.5" x2="1187.3" y2="2361.2" stroke-width="14.2"/>
<line x1="1162.2" y1="2355.3" x2="1184.3" y2="2368.6" stroke-width="14.2"/>
<line x1="1161.4" y1="2364.9" x2="1179.9" y2="2376.0" stroke-width="14.2"/>
<line x1="1162.2" y1="2374.5" x2="1175.5" y2="2382.7" stroke-width="14.2"/>
<line x1="1240.9" y1="2316.5" x2="1250.1" y2="2331.7" stroke-width="14.8"/>
<line x1="1250.1" y1="2331.7" x2="1270.5" y2="2326.1" stroke-width="14.8"/>
<line x1="1282.5" y1="2304.9" x2="1284.3" y2="2329.8" stroke-width="8.5"/>
<line x1="1284.3" y1="2329.8" x2="1312.1" y2="2320.6" stroke-width="8.5"/>
<line x1="1259.4" y1="2316.0" x2="1274.2" y2="2329.8" stroke-width="8.5"/>
<line x1="1216.9" y1="2311.3" x2="1229.8" y2="2316.9" stroke-width="8.5"/>
<line x1="1209.5" y1="2339.1" x2="1226.1" y2="2348.3" stroke-width="8.5"/>
<line x1="1314.8" y1="2363.1" x2="1325.9" y2="2357.5" stroke-width="8.5"/>
<line x1="1325.9" y1="2357.5" x2="1333.3" y2="2355.7" stroke-width="8.5"/>
<ellipse cx="1247.0" cy="2396.4" rx="54.0" ry="70.6" transform="rotate(23.0 1247.0 2396.4)" stroke-width="14.2"/>
<ellipse cx="1250.1" cy="2395.1" rx="48.4" ry="66.2" transform="rotate(23.0 1250.1 2395.1)" stroke-width="8.5"/>
<ellipse cx="1252.4" cy="2394.1" rx="44.4" ry="62.8" transform="rotate(23.0 1252.4 2394.1)" stroke-width="12.9"/>
<path d="M1253.5,2399.7 Q1264.0,2388.0 1272.3,2397.3 Q1277.0,2410.2 1262.2,2422.2" stroke-width="8.5"/>
<path d="M1294.5,2412.1 Q1307.4,2401.9 1328.7,2398.6" stroke-width="8.5"/>
<path d="M1335.2,2416.7 Q1314.8,2440.7 1292.7,2445.3 Q1281.6,2446.3 1276.0,2442.6" stroke-width="8.5"/>
<line x1="1289.0" y1="2259.6" x2="1284.3" y2="2303.9" stroke-width="8.5"/>
<text x="68.3" y="1861.4" font-size="52.0" fill="#000" stroke-width="8.0">7</text>
<text x="1819.3" y="2505.7" font-size="52.0" fill="#000" stroke-width="8.0">3</text>
<text x="806.4" y="2664.2" font-size="52.0" fill="#000" stroke-width="8.0">6</text>
<text x="1057.6" y="2795.1" font-size="52.0" fill="#000" stroke-width="8.0">1</text>
<text x="1281.3" y="2242.9" font-size="52.0" fill="#000" stroke-width="8.0">2</text>
<text x="2096.4" y="2983.7" font-size="33.0" transform="rotate(-90 2096.4 2983.7)" textLength="112" lengthAdjust="spacingAndGlyphs" fill="#000" stroke-width="5.1">3344.17</text>
</g>
<g>
<path d="M1308,1114 L1308,277 L1525,155.5 Q1538,148 1548,148 L1584,148 A117 133 0 0 1 1701 281 L1701,1131" stroke-width="4.0" fill="none"/>
<path d="M1330.5,1136 L1330.5,287 L1518,179.5 Q1535,173 1555,173 L1577,173 A103 119 0 0 1 1680 292 L1680,1131" stroke-width="4.0" fill="none"/>
<polyline points="1308.0,277.0 1330.5,287.0" stroke-width="2.0" fill="none"/>
<path d="M1308,1114 Q1308,1134 1330.5,1137" stroke-width="4.0" fill="none"/>
<path d="M1680,1131 Q1680,1144 1690.5,1144 Q1701,1144 1701,1131" stroke-width="4.0" fill="none"/>
<text x="1220.4" y="427.7" font-size="52.0" stroke="#0a0a0a" stroke-width="0.50" fill="#0a0a0a">4</text>
<polyline points="1266.0,417.0 1285.0,420.0 1309.0,427.0" stroke-width="2.0" fill="none"/>
<polygon points="1324.0,1266.0 1688.0,1210.5 1688.0,1222.5 1324.0,1278.0" stroke-width="4.0" fill="none"/>
<text x="1529.7" y="1334.7" font-size="52.0" stroke="#0a0a0a" stroke-width="0.50" fill="#0a0a0a">5</text>
<polyline points="1503.0,1251.0 1525.0,1286.0" stroke-width="2.0" fill="none"/>
<path d="M163,1649.6 L163,850 L548,639 Q633.6,592 700,592 L722,592 A267 284.6 0 0 1 989,876.6 L989,1538" stroke-width="4.0" fill="none"/>
<path d="M206,1985 L206,869 L611,643 Q660,618 735,618 Q790,618 834,625 L860,634" stroke-width="2.0" fill="none"/>
<path d="M913,752 Q950,810 957,885 L957,1536" stroke-width="2.0" fill="none"/>
<path d="M247,1964 L247,882.7 L585,694 Q650,656 700,656 L753,656 A196.5 224 0 0 1 949.5,880 L949.5,1536" stroke-width="4.0" fill="none"/>
<polyline points="949.5,930.0 949.5,1536.0" stroke-width="5.0" fill="none"/>
<polyline points="162.8,850.0 206.0,869.0 246.6,882.7" stroke-width="2.0" fill="none"/>
<polyline points="162.8,1649.6 176.9,1661.5 177.0,2224.0" stroke-width="4.0" fill="none"/>
<polyline points="176.9,1661.5 188.0,1670.7 188.0,1697.7 178.4,1690.3" stroke-width="2.9" fill="none"/>
<polyline points="116.6,1837.4 175.8,1834.5" stroke-width="2.0" fill="none"/>
<polyline points="225.7,1646.0 986.3,1537.6" stroke-width="4.0" fill="none"/>
<polyline points="233.8,1663.7 988.0,1555.4" stroke-width="2.0" fill="none"/>
<polyline points="218.3,1710.6 977.0,1600.8" stroke-width="4.0" fill="none"/>
<polyline points="225.7,1647.8 233.8,1663.7 218.3,1710.6 206.5,1705.8" stroke-width="2.9" fill="none"/>
<polyline points="223.8,1649.6 215.3,1686.6" stroke-width="2.0" fill="none"/>
<polyline points="205.9,1987.7 883.6,1624.2 893.3,1629.5 893.3,1694.5" stroke-width="4.0" fill="none"/>
<polyline points="211.4,1994.5 890.0,1633.0" stroke-width="2.0" fill="none"/>
<polyline points="246.5,1963.9 259.5,1963.9 264.1,1968.5 264.1,2005.5" stroke-width="4.0" fill="none"/>
<polyline points="251.2,2013.8 264.1,2005.5 891.7,1661.7" stroke-width="4.0" fill="none"/>
<polyline points="253.4,2012.8 253.4,2048.0" stroke-width="4.5" fill="none"/>
<polyline points="256.7,2015.6 279.8,2031.3 257.6,2044.3" stroke-width="2.0" fill="none"/>
<polyline points="253.9,2048.0 1013.4,1628.8" stroke-width="4.0" fill="none"/>
<polyline points="261.3,2061.8 1044.2,1632.8" stroke-width="2.9" fill="none"/>
<polyline points="261.3,2066.5 1040.6,1640.0" stroke-width="2.0" fill="none"/>
<polyline points="346.4,2048.0 960.5,1710.5" stroke-width="4.0" fill="none"/>
<polyline points="365.8,2008.2 295.5,2132.1" stroke-width="4.0" fill="none"/>
<polyline points="290.9,2053.5 298.3,2050.7" stroke-width="2.0" fill="none"/>
<polyline points="217.9,2048.0 217.9,2034.1 223.4,2029.5 228.1,2030.4 253.0,2045.2" stroke-width="4.0" fill="none"/>
<polyline points="223.4,2035.0 250.2,2050.7" stroke-width="2.9" fill="none"/>
<polyline points="218.8,2048.0 257.6,2068.3 262.3,2066.1" stroke-width="2.9" fill="none"/>
<polyline points="250.2,2053.5 261.3,2061.3" stroke-width="2.9" fill="none"/>
<polyline points="213.3,1992.5 213.3,2079.4" stroke-width="2.0" fill="none"/>
<polyline points="216.0,2033.2 216.0,2079.4" stroke-width="4.2" fill="none"/>
<polyline points="983.0,1645.7 983.0,1612.0 983.1,1611.2 986.8,1607.5 992.3,1605.7 1003.4,1609.4 1044.1,1631.6" stroke-width="4.0" fill="none"/>
<polyline points="992.3,1548.4 992.3,1605.7" stroke-width="2.9" fill="none"/>
<polyline points="985.9,1612.2 1013.6,1627.9" stroke-width="2.0" fill="none"/>
<polyline points="986.2,1611.2 1013.4,1628.8" stroke-width="2.0" fill="none"/>
<polyline points="1045.9,1630.6 1083.8,1607.5 1089.4,1609.0 1092.1,1612.7 1092.1,1738.8 1088.4,1744.3 1049.6,1763.7" stroke-width="4.0" fill="none"/>
<polyline points="1049.0,1633.0 1049.0,2060.0" stroke-width="4.0" fill="none"/>
<polyline points="1012.0,1656.0 1012.0,2035.8" stroke-width="4.0" fill="none"/>
<polyline points="934.9,1692.9 1011.8,1737.0" stroke-width="4.0" fill="none"/>
<polyline points="917.5,1736.2 917.5,1995.2" stroke-width="5.0" fill="none"/>
<polyline points="948.0,1718.5 948.0,1975.5" stroke-width="2.0" fill="none"/>
<polyline points="959.0,1715.3 959.0,1969.3" stroke-width="2.0" fill="none"/>
<polyline points="989.0,1726.6 989.0,1954.5" stroke-width="2.0" fill="none"/>
<polyline points="997.0,1731.4 997.0,1949.6" stroke-width="2.0" fill="none"/>
<polyline points="895.7,1648.1 933.3,1626.4" stroke-width="4.0" fill="none"/>
<polyline points="918.1,1638.4 918.1,1678.5" stroke-width="2.0" fill="none"/>
<polyline points="933.3,1611.2 933.3,1672.1" stroke-width="4.2" fill="none"/>
<polyline points="938.9,1612.8 938.9,1667.3" stroke-width="2.0" fill="none"/>
<polyline points="942.9,1664.1 942.9,1635.2 958.9,1628.8 983.0,1643.3" stroke-width="2.0" fill="none"/>
<polyline points="954.9,1632.0 954.9,1657.7" stroke-width="2.0" fill="none"/>
<polyline points="990.5,1514.2 1036.7,1501.8 1041.3,1502.6 1044.1,1506.8 1044.1,1529.0 1041.3,1531.8 1004.3,1551.2" stroke-width="4.0" fill="none"/>
<ellipse cx="1024.7" cy="1525.3" rx="5.0" ry="6.5" transform="rotate(15.0 1024.7 1525.3)" stroke-width="2.0" fill="none"/>
<polyline points="989.0,1537.3 1001.6,1544.7 1001.6,1589.1 993.3,1589.1" stroke-width="4.0" fill="none"/>
<polyline points="986.8,1537.3 990.9,1551.2 977.5,1601.1" stroke-width="2.9" fill="none"/>
<polyline points="206.0,1985.0 206.0,2881.6" stroke-width="2.0" fill="none"/>
<polyline points="177.0,2224.0 177.0,2866.8" stroke-width="4.0" fill="none"/>
<polyline points="218.0,2140.0 218.0,2757.0" stroke-width="2.0" fill="none"/>
<polyline points="260.0,2075.7 260.0,2805.0" stroke-width="2.0" fill="none"/>
<polyline points="293.5,2053.5 293.5,2789.0" stroke-width="5.0" fill="none"/>
<polyline points="176.9,2866.8 206.0,2881.6 247.9,2859.4 247.9,2801.5" stroke-width="4.0" fill="none"/>
<polyline points="217.8,2757.2 217.8,2780.6 260.2,2805.2 293.5,2788.0 366.2,2746.1" stroke-width="4.0" fill="none"/>
<clipPath id="cb1"><polygon points="145.1,2127.6 146.2,2123.6 149.9,2121.2 214.6,2087.9 229.4,2087.9 255.3,2100.8 260.4,2104.5 261.7,2109.1 261.7,2230.2 259.9,2233.9 255.3,2235.8 249.7,2235.4 229.4,2223.8 223.8,2221.9 218.3,2222.3 155.5,2255.2 149.9,2257.0 146.2,2255.5 145.1,2251.5"/></clipPath>
<polygon points="145.1,2127.6 146.2,2123.6 149.9,2121.2 214.6,2087.9 229.4,2087.9 255.3,2100.8 260.4,2104.5 261.7,2109.1 261.7,2230.2 259.9,2233.9 255.3,2235.8 249.7,2235.4 229.4,2223.8 223.8,2221.9 218.3,2222.3 155.5,2255.2 149.9,2257.0 146.2,2255.5 145.1,2251.5" fill="#fff" stroke="none"/>
<g opacity="0.24" stroke="#000" fill="none" stroke-width="13" clip-path="url(#cb1)">
<line x1="146.2" y1="2123.6" x2="149.9" y2="2121.2"/>
<line x1="149.9" y1="2121.2" x2="214.6" y2="2087.9"/>
<line x1="229.4" y1="2087.9" x2="255.3" y2="2100.8"/>
<line x1="255.3" y1="2100.8" x2="260.4" y2="2104.5"/>
<line x1="260.4" y1="2104.5" x2="261.7" y2="2109.1"/>
<line x1="261.7" y1="2230.2" x2="259.9" y2="2233.9"/>
<line x1="259.9" y1="2233.9" x2="255.3" y2="2235.8"/>
<line x1="249.7" y1="2235.4" x2="229.4" y2="2223.8"/>
<line x1="229.4" y1="2223.8" x2="223.8" y2="2221.9"/>
<line x1="218.3" y1="2222.3" x2="155.5" y2="2255.2"/>
<line x1="155.5" y1="2255.2" x2="149.9" y2="2257.0"/>
<line x1="149.9" y1="2257.0" x2="146.2" y2="2255.5"/>
<ellipse cx="189.6" cy="2145.2" rx="3.5" ry="7.5" transform="rotate(25 189.6 2145.2)"/>
<ellipse cx="189.6" cy="2197.0" rx="3.5" ry="7.5" transform="rotate(25 189.6 2197.0)"/>
<ellipse cx="241.4" cy="2130.4" rx="3.5" ry="7.5" transform="rotate(-25 241.4 2130.4)"/>
<ellipse cx="241.4" cy="2196.0" rx="3.5" ry="7.5" transform="rotate(-25 241.4 2196.0)"/>
</g>
<polygon points="145.1,2127.6 146.2,2123.6 149.9,2121.2 214.6,2087.9 229.4,2087.9 255.3,2100.8 260.4,2104.5 261.7,2109.1 261.7,2230.2 259.9,2233.9 255.3,2235.8 249.7,2235.4 229.4,2223.8 223.8,2221.9 218.3,2222.3 155.5,2255.2 149.9,2257.0 146.2,2255.5 145.1,2251.5" stroke-width="4.2" fill="none"/>
<polyline points="149.0,2251.5 149.0,2129.5 210.9,2092.9" stroke-width="2.0" fill="none"/>
<polyline points="256.7,2109.1 256.7,2232.1" stroke-width="2.0" fill="none"/>
<polyline points="223.5,2094.4 223.5,2207.1" stroke-width="2.0" fill="none"/>
<ellipse cx="189.6" cy="2145.2" rx="3.5" ry="7.5" transform="rotate(25.0 189.6 2145.2)" stroke-width="3.8" fill="none"/>
<ellipse cx="189.6" cy="2197.0" rx="3.5" ry="7.5" transform="rotate(25.0 189.6 2197.0)" stroke-width="3.8" fill="none"/>
<ellipse cx="241.4" cy="2130.4" rx="3.5" ry="7.5" transform="rotate(-25.0 241.4 2130.4)" stroke-width="3.8" fill="none"/>
<ellipse cx="241.4" cy="2196.0" rx="3.5" ry="7.5" transform="rotate(-25.0 241.4 2196.0)" stroke-width="3.8" fill="none"/>
<clipPath id="cb2"><polygon points="145.1,2663.5 146.3,2658.6 149.3,2655.6 215.8,2619.1 228.2,2619.1 255.3,2632.7 260.7,2636.4 262.2,2641.3 262.2,2760.9 260.2,2766.5 255.3,2769.5 247.9,2769.0 228.2,2757.2 222.0,2755.4 215.8,2755.9 156.7,2789.2 150.5,2790.7 146.3,2788.7 145.1,2784.3"/></clipPath>
<polygon points="145.1,2663.5 146.3,2658.6 149.3,2655.6 215.8,2619.1 228.2,2619.1 255.3,2632.7 260.7,2636.4 262.2,2641.3 262.2,2760.9 260.2,2766.5 255.3,2769.5 247.9,2769.0 228.2,2757.2 222.0,2755.4 215.8,2755.9 156.7,2789.2 150.5,2790.7 146.3,2788.7 145.1,2784.3" fill="#fff" stroke="none"/>
<g opacity="0.24" stroke="#000" fill="none" stroke-width="13" clip-path="url(#cb2)">
<line x1="145.1" y1="2663.5" x2="146.3" y2="2658.6"/>
<line x1="146.3" y1="2658.6" x2="149.3" y2="2655.6"/>
<line x1="149.3" y1="2655.6" x2="215.8" y2="2619.1"/>
<line x1="228.2" y1="2619.1" x2="255.3" y2="2632.7"/>
<line x1="255.3" y1="2632.7" x2="260.7" y2="2636.4"/>
<line x1="260.7" y1="2636.4" x2="262.2" y2="2641.3"/>
<line x1="262.2" y1="2760.9" x2="260.2" y2="2766.5"/>
<line x1="260.2" y1="2766.5" x2="255.3" y2="2769.5"/>
<line x1="247.9" y1="2769.0" x2="228.2" y2="2757.2"/>
<line x1="228.2" y1="2757.2" x2="222.0" y2="2755.4"/>
<line x1="215.8" y1="2755.9" x2="156.7" y2="2789.2"/>
<line x1="156.7" y1="2789.2" x2="150.5" y2="2790.7"/>
<line x1="150.5" y1="2790.7" x2="146.3" y2="2788.7"/>
<line x1="146.3" y1="2788.7" x2="145.1" y2="2784.3"/>
<ellipse cx="188.2" cy="2677.8" rx="3.5" ry="7.5" transform="rotate(25 188.2 2677.8)"/>
<ellipse cx="188.2" cy="2730.5" rx="3.5" ry="7.5" transform="rotate(25 188.2 2730.5)"/>
<ellipse cx="241.0" cy="2661.5" rx="3.5" ry="7.5" transform="rotate(-25 241.0 2661.5)"/>
<ellipse cx="241.0" cy="2729.6" rx="3.5" ry="7.5" transform="rotate(-25 241.0 2729.6)"/>
</g>
<polygon points="145.1,2663.5 146.3,2658.6 149.3,2655.6 215.8,2619.1 228.2,2619.1 255.3,2632.7 260.7,2636.4 262.2,2641.3 262.2,2760.9 260.2,2766.5 255.3,2769.5 247.9,2769.0 228.2,2757.2 222.0,2755.4 215.8,2755.9 156.7,2789.2 150.5,2790.7 146.3,2788.7 145.1,2784.3" stroke-width="4.2" fill="none"/>
<polyline points="148.8,2784.3 148.8,2666.0 213.4,2623.6" stroke-width="2.0" fill="none"/>
<polyline points="256.5,2642.6 256.5,2764.6" stroke-width="2.0" fill="none"/>
<polyline points="223.2,2626.5 223.2,2739.9" stroke-width="2.0" fill="none"/>
<ellipse cx="188.2" cy="2677.8" rx="3.5" ry="7.5" transform="rotate(25.0 188.2 2677.8)" stroke-width="3.8" fill="none"/>
<ellipse cx="188.2" cy="2730.5" rx="3.5" ry="7.5" transform="rotate(25.0 188.2 2730.5)" stroke-width="3.8" fill="none"/>
<ellipse cx="241.0" cy="2661.5" rx="3.5" ry="7.5" transform="rotate(-25.0 241.0 2661.5)" stroke-width="3.8" fill="none"/>
<ellipse cx="241.0" cy="2729.6" rx="3.5" ry="7.5" transform="rotate(-25.0 241.0 2729.6)" stroke-width="3.8" fill="none"/>
<polyline points="295.9,2340.0 996.9,1950.8 1011.7,1959.4" stroke-width="4.0" fill="none"/>
<polyline points="298.3,2358.4 1001.8,1970.5" stroke-width="2.0" fill="none"/>
<polyline points="295.9,2393.0 338.0,2370.0" stroke-width="4.0" fill="none"/>
<polyline points="395.7,2337.5 1011.7,1995.2" stroke-width="4.0" fill="none"/>
<polyline points="809.6,2050.6 809.6,2035.8 825.6,2044.5" stroke-width="2.9" fill="none"/>
<polyline points="839.1,2035.8 839.1,2023.5 851.5,2029.7" stroke-width="2.9" fill="none"/>
<polyline points="989.5,2006.3 989.5,2018.6" stroke-width="2.9" fill="none"/>
<polyline points="997.4,2003.8 997.4,2023.5" stroke-width="2.0" fill="none"/>
<polyline points="348.9,2333.8 600.0,2358.7 699.8,2368.7" stroke-width="4.0" fill="none"/>
<polyline points="341.5,2362.1 600.0,2385.5 699.8,2395.7" stroke-width="4.0" fill="none"/>
<path d="M348.9,2333.8 Q340,2334 336.5,2346 L336.5,2356 Q337,2361 341.5,2362.1" stroke-width="4.0" fill="none"/>
<ellipse cx="346.9" cy="2348.6" rx="4.5" ry="7.5" transform="rotate(25.0 346.9 2348.6)" stroke-width="2.0" fill="none"/>
<polyline points="295.9,2688.2 320.6,2675.8 330.4,2678.3 338.6,2686.9 338.6,2727.6" stroke-width="4.0" fill="none"/>
<polyline points="295.9,2705.4 338.6,2728.8 366.2,2746.1" stroke-width="4.0" fill="none"/>
<polyline points="297.2,2702.9 331.7,2685.7" stroke-width="2.0" fill="none"/>
<polyline points="340.3,2707.2 685.7,2516.0" stroke-width="4.0" fill="none"/>
<polyline points="340.3,2722.7 698.0,2525.4" stroke-width="2.0" fill="none"/>
<polyline points="366.2,2746.1 732.5,2540.2" stroke-width="4.0" fill="none"/>
<polyline points="583.4,2625.2 583.4,2675.7 609.3,2691.8 701.7,2644.9 701.7,2561.1" stroke-width="4.0" fill="none"/>
<polyline points="609.3,2691.8 609.3,2614.1" stroke-width="2.0" fill="none"/>
<polyline points="656.1,2626.5 677.8,2636.3" stroke-width="2.9" fill="none"/>
<polyline points="650.0,2643.7 670.4,2654.8" stroke-width="2.9" fill="none"/>
<path d="M656.1,2626.5 Q646.3,2628.9 650.0,2643.7" stroke-width="2.9" fill="none"/>
<ellipse cx="675.8" cy="2645.7" rx="6.0" ry="9.5" transform="rotate(25.0 675.8 2645.7)" stroke-width="2.9" fill="none"/>
<polyline points="851.5,2090.1 929.1,2131.5 1052.3,2067.9" stroke-width="4.0" fill="none"/>
<polyline points="974.7,2017.8 1061.0,2066.6" stroke-width="4.0" fill="none"/>
<polyline points="845.3,2088.8 929.1,2134.9 1061.0,2066.6" stroke-width="2.0" fill="none"/>
<polyline points="929.1,2134.4 929.1,2437.0" stroke-width="2.0" fill="none"/>
<polyline points="1061.6,2066.6 1061.6,2368.0" stroke-width="5.0" fill="none"/>
<polyline points="1061.6,2368.0 1054.7,2375.3 929.0,2438.2 873.6,2405.0" stroke-width="4.0" fill="none"/>
<polyline points="841.0,2090.0 841.0,2152.0" stroke-width="4.0" fill="none"/>
<polyline points="1064.0,2145.3 1085.0,2138.0 1090.5,2140.5 1091.8,2146.0 1091.8,2265.0 1089.0,2271.0 1086.0,2273.5 1064.0,2285.8" stroke-width="4.0" fill="none"/>
<polyline points="914.5,2437.0 914.5,2461.0" stroke-width="5.0" fill="none"/>
<polyline points="917.9,2460.4 948.5,2444.6" stroke-width="2.9" fill="none"/>
<polyline points="949.4,2428.0 949.4,2468.0" stroke-width="2.9" fill="none"/>
<polyline points="956.9,2426.0 956.9,2470.0 990.0,2451.0 990.0,2410.0" stroke-width="2.9" fill="none"/>
<polyline points="873.6,2419.4 914.9,2442.8" stroke-width="2.0" fill="none"/>
<polyline points="873.6,2462.0 914.2,2441.9" stroke-width="2.9" fill="none"/>
<polyline points="661.8,2192.4 739.3,2237.7 861.9,2171.7" stroke-width="4.0" fill="none"/>
<polyline points="787.0,2123.4 871.8,2171.7" stroke-width="4.0" fill="none"/>
<polyline points="652.0,2194.4 739.3,2240.7 871.8,2171.7" stroke-width="2.0" fill="none"/>
<polyline points="652.0,2194.4 652.0,2245.6 699.2,2274.2 699.2,2445.3 652.4,2418.2 652.4,2493.4 737.5,2543.9 825.0,2497.1" stroke-width="4.0" fill="none"/>
<polyline points="838.5,2489.7 872.5,2472.4 872.5,2171.7" stroke-width="4.0" fill="none"/>
<polyline points="739.3,2239.7 739.3,2542.7" stroke-width="2.0" fill="none"/>
<ellipse cx="722.0" cy="2170.5" rx="10.0" ry="13.5" transform="rotate(12.0 722.0 2170.5)" stroke-width="2.9" fill="none"/>
<polyline points="993.7,2189.8 1175.0,2294.4" stroke-width="2.0" fill="none"/>
<polyline points="794.1,2467.5 1071.3,2629.2" stroke-width="2.0" fill="none"/>
<polyline points="776.9,2508.2 810.2,2611.7" stroke-width="2.0" fill="none"/>
<path d="M1472.3,2324.1 1703.4,2131.9 1851.3,2207.0 L1843.6,2282.5 1880.5,2307.1 Q1884.2,2312.7 1876.8,2318.8 L1697.2,2515.1 Q1683.4,2527.7 1664.9,2524.6 Q1655.7,2522.2 1649.5,2513.5 L1470.8,2384.1 Q1459.1,2372.4 1473.3,2355.8" stroke-width="4.5" fill="none"/>
<polyline points="1472.3,2324.1 1489.3,2393.4" stroke-width="4.0" fill="none"/>
<polyline points="1472.3,2324.1 1621.8,2430.3 1843.6,2211.6" stroke-width="2.0" fill="none"/>
<polyline points="1621.8,2430.3 1637.2,2492.0 1839.0,2290.2" stroke-width="2.0" fill="none"/>
<polyline points="1871.3,2311.7 1693.2,2508.9" stroke-width="2.0" fill="none"/>
<polyline points="1481.6,2379.5 1637.2,2492.6" stroke-width="2.0" fill="none"/>
<polyline points="1681.8,2394.9 1686.5,2422.6" stroke-width="2.9" fill="none"/>
<polyline points="1698.8,2378.0 1703.4,2404.2" stroke-width="2.9" fill="none"/>
<polyline points="1717.3,2359.5 1723.4,2387.2" stroke-width="2.9" fill="none"/>
<polyline points="1737.3,2342.5 1741.9,2368.7" stroke-width="2.9" fill="none"/>
<polyline points="1754.2,2324.1 1760.4,2350.2" stroke-width="2.9" fill="none"/>
<polyline points="1772.7,2305.6 1778.9,2333.3" stroke-width="2.9" fill="none"/>
<polyline points="1791.2,2288.6 1797.4,2314.8" stroke-width="2.9" fill="none"/>
<polyline points="1809.7,2268.6 1815.8,2297.9" stroke-width="2.9" fill="none"/>
<circle cx="1840.5" cy="2336.4" r="6.0" stroke-width="2.0" fill="none"/>
<circle cx="1712.6" cy="2475.0" r="6.5" stroke-width="2.0" fill="none"/>
<polyline points="1489.3,2341.0 1497.0,2371.8 1523.2,2393.4 1535.5,2399.5 1539.2,2390.3 1538.6,2378.0" stroke-width="2.0" fill="none"/>
<polyline points="1489.3,2341.0 1538.6,2378.0" stroke-width="2.0" fill="none"/>
<path d="M1577.1,2451.9 C1575.6,2408.8 1606.4,2408.8 1612.5,2476.6" stroke-width="2.0" fill="none"/>
<path d="M1587.3,2458.1 C1586.3,2433.4 1600.2,2433.4 1602.4,2470.4" stroke-width="2.0" fill="none"/>
<polyline points="1777.3,2428.8 1809.7,2461.2" stroke-width="2.0" fill="none"/>
<polygon points="1083.9,2613.7 1123.8,2594.0 1126.8,2601.4 1138.6,2608.3 1151.4,2609.3 1151.4,2649.7 1144.5,2653.7 1144.5,2689.1 1147.5,2691.1 1112.0,2711.8 1083.9,2697.0 1083.9,2671.4 1081.4,2670.4 1081.4,2649.2 1083.9,2648.7" stroke-width="4.5" fill="none"/>
<polyline points="1147.0,2654.6 1152.4,2662.5 1147.0,2669.4" stroke-width="4.2" fill="none"/>
<polyline points="1085.3,2615.2 1112.0,2630.0 1149.4,2611.3" stroke-width="2.9" fill="none"/>
<polyline points="1112.0,2630.0 1112.0,2663.5" stroke-width="2.9" fill="none"/>
<polyline points="1112.0,2684.2 1112.0,2710.8" stroke-width="2.9" fill="none"/>
<polyline points="1108.0,2663.0 1108.0,2683.7" stroke-width="2.0" fill="none"/>
<polyline points="1083.9,2649.7 1112.0,2663.5" stroke-width="4.0" fill="none"/>
<polyline points="1083.9,2671.4 1111.5,2685.2" stroke-width="4.0" fill="none"/>
<ellipse cx="1123.8" cy="2646.8" rx="3.6" ry="6.0" transform="rotate(28.0 1123.8 2646.8)" stroke-width="4.0" fill="none"/>
<ellipse cx="1123.8" cy="2689.1" rx="3.6" ry="6.0" transform="rotate(28.0 1123.8 2689.1)" stroke-width="4.0" fill="none"/>
<ellipse cx="1098.2" cy="2634.9" rx="2.2" ry="3.2" transform="rotate(-25.0 1098.2 2634.9)" stroke-width="2.0" fill="none"/>
<ellipse cx="1094.2" cy="2666.5" rx="2.2" ry="3.2" transform="rotate(-25.0 1094.2 2666.5)" stroke-width="2.0" fill="none"/>
<ellipse cx="1098.2" cy="2692.1" rx="2.2" ry="3.2" transform="rotate(-25.0 1098.2 2692.1)" stroke-width="2.0" fill="none"/>
<polyline points="1097.2,2707.9 1083.4,2741.4" stroke-width="2.0" fill="none"/>
<path d="M1210.4,2306.2 L1186.4,2292.5 Q1179.0,2293.8 1181.8,2299.9 L1206.7,2313.2" stroke-width="4.8" fill="none"/>
<path d="M1201.3,2339.1 L1207.6,2330.7 1209.5,2311.3 1218.7,2307.6 1230.7,2314.1 1240.9,2316.5 1259.4,2316.0 1282.5,2304.9 1312.1,2320.6 1313.9,2344.6 1333.3,2355.7 1333.0,2364.0 1316.7,2376.0 1315.8,2392.7 1328.7,2398.2 Q1337.9,2403.8 1338.9,2412.1 L1350.0,2555.3 Q1342.6,2577.5 1301.9,2582.1 Q1263.1,2581.2 1255.7,2566.4 L1252.0,2544.2 1248.3,2461.1" stroke-width="4.8" fill="none"/>
<path d="M1171.6,2384.3 Q1166.0,2414.8 1174.4,2438.9 Q1183.6,2455.5 1209.5,2468.4 L1234.4,2486.9 1244.6,2477.7 1248.3,2461.1" stroke-width="4.8" fill="none"/>
<polyline points="1211.3,2467.5 1229.8,2469.4 1232.6,2486.0" stroke-width="2.9" fill="none"/>
<polyline points="1201.3,2339.1 1179.9,2331.1 1160.7,2355.5 1160.7,2375.5 1174.7,2385.1 1201.3,2339.1" stroke-width="4.8" fill="none"/>
<polyline points="1181.4,2334.6 1196.2,2346.5" stroke-width="4.2" fill="none"/>
<polyline points="1172.5,2339.1 1191.7,2353.8" stroke-width="4.2" fill="none"/>
<polyline points="1165.9,2346.5 1187.3,2361.2" stroke-width="4.2" fill="none"/>
<polyline points="1162.2,2355.3 1184.3,2368.6" stroke-width="4.2" fill="none"/>
<polyline points="1161.4,2364.9 1179.9,2376.0" stroke-width="4.2" fill="none"/>
<polyline points="1162.2,2374.5 1175.5,2382.7" stroke-width="4.2" fill="none"/>
<polyline points="1240.9,2316.5 1250.1,2331.7 1270.5,2326.1" stroke-width="4.8" fill="none"/>
<polyline points="1282.5,2304.9 1284.3,2329.8" stroke-width="2.0" fill="none"/>
<polyline points="1284.3,2329.8 1312.1,2320.6" stroke-width="2.0" fill="none"/>
<polyline points="1259.4,2316.0 1274.2,2329.8" stroke-width="2.0" fill="none"/>
<polyline points="1216.9,2311.3 1229.8,2316.9 1228.9,2344.6" stroke-width="2.0" fill="none"/>
<polyline points="1209.5,2339.1 1226.1,2348.3" stroke-width="2.0" fill="none"/>
<polyline points="1314.8,2363.1 1325.9,2357.5 1333.3,2355.7" stroke-width="2.0" fill="none"/>
<ellipse cx="1247.0" cy="2396.4" rx="54.0" ry="70.6" transform="rotate(23.0 1247.0 2396.4)" stroke-width="4.2" fill="none"/>
<ellipse cx="1250.1" cy="2395.1" rx="48.4" ry="66.2" transform="rotate(23.0 1250.1 2395.1)" stroke-width="2.0" fill="none"/>
<ellipse cx="1252.4" cy="2394.1" rx="44.4" ry="62.8" transform="rotate(23.0 1252.4 2394.1)" stroke-width="2.9" fill="none"/>
<path d="M1253.5,2399.7 Q1264.0,2388.0 1272.3,2397.3 Q1277.0,2410.2 1262.2,2422.2" stroke-width="2.0" fill="none"/>
<polyline points="1250.1,2424.1 1263.1,2424.1" stroke-width="2.0" fill="none"/>
<path d="M1294.5,2412.1 Q1307.4,2401.9 1328.7,2398.6" stroke-width="2.0" fill="none"/>
<path d="M1335.2,2416.7 Q1314.8,2440.7 1292.7,2445.3 Q1281.6,2446.3 1276.0,2442.6" stroke-width="2.0" fill="none"/>
<polyline points="1289.0,2259.6 1284.3,2303.9" stroke-width="2.0" fill="none"/>
<text x="68.3" y="1861.4" font-size="52.0" stroke="#0a0a0a" stroke-width="0.50" fill="#0a0a0a">7</text>
<text x="1819.3" y="2505.7" font-size="52.0" stroke="#0a0a0a" stroke-width="0.50" fill="#0a0a0a">3</text>
<text x="806.4" y="2664.2" font-size="52.0" stroke="#0a0a0a" stroke-width="0.50" fill="#0a0a0a">6</text>
<text x="1057.6" y="2795.1" font-size="52.0" stroke="#0a0a0a" stroke-width="0.50" fill="#0a0a0a">1</text>
<text x="1281.3" y="2242.9" font-size="52.0" stroke="#0a0a0a" stroke-width="0.50" fill="#0a0a0a">2</text>
<text x="2096.4" y="2983.7" font-size="33.0" transform="rotate(-90 2096.4 2983.7)" textLength="112" lengthAdjust="spacingAndGlyphs" stroke="#0a0a0a" stroke-width="0.32" fill="#0a0a0a">3344.17</text>
</g>
</svg>
</body></html>
